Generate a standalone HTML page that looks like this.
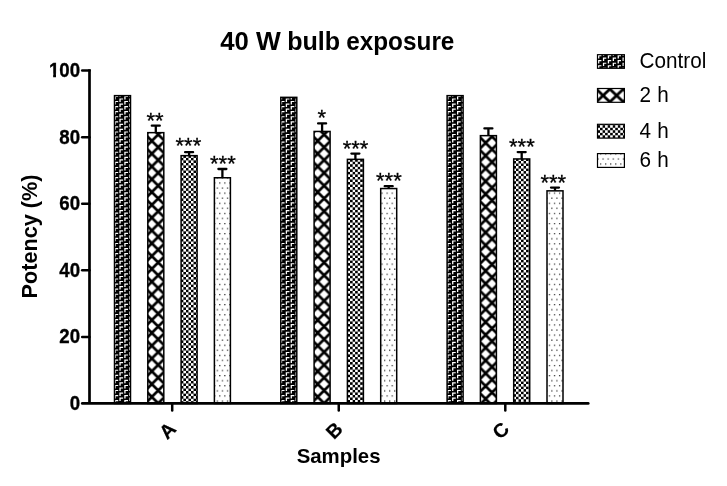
<!DOCTYPE html>
<html lang="en">
<head>
<meta charset="utf-8">
<title>40 W bulb exposure</title>
<style>
html,body{margin:0;padding:0;background:#fff;}
body{width:727px;height:486px;overflow:hidden;}
svg{display:block;}
text{font-family:"Liberation Sans",Arial,sans-serif;fill:#000;}
.b{font-weight:bold;}
</style>
</head>
<body>
<svg width="727" height="486" viewBox="0 0 727 486">
<defs>
<pattern id="pc" patternUnits="userSpaceOnUse" x="114.5" y="95.6" width="9.785" height="5.070"><rect width="9.785" height="5.070" fill="#000"/><path d="M0.00 0.30h3.7v1.15h-2.4v2.35h-1.3z" fill="#fff"/><path d="M4.89 2.83h3.7v1.15h-2.4v2.35h-1.3z" fill="#fff"/><path d="M4.89 -2.24h3.7v1.15h-2.4v2.35h-1.3z" fill="#fff"/></pattern>
<pattern id="pcL" patternUnits="userSpaceOnUse" x="598.0" y="54.75" width="9.800" height="5.070"><rect width="9.800" height="5.070" fill="#000"/><path d="M0.00 0.30h3.4v1.15h-2.1v2.2h-1.3z" fill="#fff"/><path d="M4.90 2.83h3.4v1.15h-2.1v2.2h-1.3z" fill="#fff"/><path d="M4.90 -2.24h3.4v1.15h-2.1v2.2h-1.3z" fill="#fff"/></pattern>
<pattern id="pxA" patternUnits="userSpaceOnUse" x="151.80" y="140.90" width="12.8" height="12.8"><rect width="12.8" height="12.8" fill="#fff"/><path d="M-1.28 -1.28L14.08 14.08M-1.28 14.08L14.08 -1.28" stroke="#000" stroke-width="2.7" fill="none"/></pattern>
<pattern id="pxB" patternUnits="userSpaceOnUse" x="317.70" y="140.90" width="12.8" height="12.8"><rect width="12.8" height="12.8" fill="#fff"/><path d="M-1.28 -1.28L14.08 14.08M-1.28 14.08L14.08 -1.28" stroke="#000" stroke-width="2.7" fill="none"/></pattern>
<pattern id="pxC" patternUnits="userSpaceOnUse" x="485.60" y="142.90" width="12.8" height="12.8"><rect width="12.8" height="12.8" fill="#fff"/><path d="M-1.28 -1.28L14.08 14.08M-1.28 14.08L14.08 -1.28" stroke="#000" stroke-width="2.7" fill="none"/></pattern>
<pattern id="pxL" patternUnits="userSpaceOnUse" x="603.10" y="95.50" width="13.5" height="12.8"><rect width="13.5" height="12.8" fill="#fff"/><path d="M-1.35 -1.28L14.85 14.08M-1.35 14.08L14.85 -1.28" stroke="#000" stroke-width="2.7" fill="none"/></pattern>
<pattern id="pkA" patternUnits="userSpaceOnUse" x="180.85" y="157.85" width="5.07" height="5.07"><rect width="5.07" height="5.07" fill="#fff"/><rect x="0" y="0" width="2.535" height="2.535" fill="#000"/><rect x="2.535" y="2.535" width="2.535" height="2.535" fill="#000"/></pattern>
<pattern id="pkB" patternUnits="userSpaceOnUse" x="180.25" y="156.65" width="5.07" height="5.07"><rect width="5.07" height="5.07" fill="#fff"/><rect x="0" y="0" width="2.535" height="2.535" fill="#000"/><rect x="2.535" y="2.535" width="2.535" height="2.535" fill="#000"/></pattern>
<pattern id="pkC" patternUnits="userSpaceOnUse" x="181.35" y="158.45" width="5.07" height="5.07"><rect width="5.07" height="5.07" fill="#fff"/><rect x="0" y="0" width="2.535" height="2.535" fill="#000"/><rect x="2.535" y="2.535" width="2.535" height="2.535" fill="#000"/></pattern>
<pattern id="pkL" patternUnits="userSpaceOnUse" x="597.52" y="125.2" width="5.07" height="5.07"><rect width="5.07" height="5.07" fill="#fff"/><rect x="0" y="0" width="2.535" height="2.535" fill="#000"/><rect x="2.535" y="2.535" width="2.535" height="2.535" fill="#000"/></pattern>
<pattern id="pd" patternUnits="userSpaceOnUse" x="219.2" y="182.4" width="5.07" height="10.14"><rect width="5.07" height="10.14" fill="#fff"/><rect x="0" y="0" width="1.2" height="1.2" fill="#222"/><rect x="2.535" y="5.07" width="1.2" height="1.2" fill="#222"/></pattern>
<pattern id="pdL" patternUnits="userSpaceOnUse" x="219.7" y="183.7" width="5.07" height="10.14"><rect width="5.07" height="10.14" fill="#fff"/><rect x="0" y="0" width="1.2" height="1.2" fill="#222"/><rect x="2.535" y="5.07" width="1.2" height="1.2" fill="#222"/></pattern>
</defs>
<rect width="727" height="486" fill="#fff"/>
<text class="b" y="49.6" font-size="26.5"><tspan x="220.3" textLength="28.6" lengthAdjust="spacingAndGlyphs">40</tspan> <tspan x="256.0" textLength="24.8" lengthAdjust="spacingAndGlyphs">W</tspan> <tspan x="287.2" textLength="53.0" lengthAdjust="spacingAndGlyphs">bulb</tspan> <tspan x="346.2" textLength="108.2" lengthAdjust="spacingAndGlyphs">exposure</tspan></text>
<clipPath id="clA"><rect x="114.50" y="95.65" width="16.00" height="307.80"/></clipPath>
<rect x="114.50" y="95.65" width="16.00" height="307.80" fill="#000"/>
<path clip-path="url(#clA)" fill="#fff" d="M109.61 88.30h3.7v1.15h-2.4v2.35h-1.3zM109.61 93.37h3.7v1.15h-2.4v2.35h-1.3zM109.61 98.44h3.7v1.15h-2.4v2.35h-1.3zM109.61 103.50h3.7v1.15h-2.4v2.35h-1.3zM109.61 108.58h3.7v1.15h-2.4v2.35h-1.3zM109.61 113.65h3.7v1.15h-2.4v2.35h-1.3zM109.61 118.72h3.7v1.15h-2.4v2.35h-1.3zM109.61 123.78h3.7v1.15h-2.4v2.35h-1.3zM109.61 128.86h3.7v1.15h-2.4v2.35h-1.3zM109.61 133.93h3.7v1.15h-2.4v2.35h-1.3zM109.61 139.00h3.7v1.15h-2.4v2.35h-1.3zM109.61 144.06h3.7v1.15h-2.4v2.35h-1.3zM109.61 149.13h3.7v1.15h-2.4v2.35h-1.3zM109.61 154.21h3.7v1.15h-2.4v2.35h-1.3zM109.61 159.28h3.7v1.15h-2.4v2.35h-1.3zM109.61 164.34h3.7v1.15h-2.4v2.35h-1.3zM109.61 169.42h3.7v1.15h-2.4v2.35h-1.3zM109.61 174.49h3.7v1.15h-2.4v2.35h-1.3zM109.61 179.56h3.7v1.15h-2.4v2.35h-1.3zM109.61 184.62h3.7v1.15h-2.4v2.35h-1.3zM109.61 189.69h3.7v1.15h-2.4v2.35h-1.3zM109.61 194.77h3.7v1.15h-2.4v2.35h-1.3zM109.61 199.84h3.7v1.15h-2.4v2.35h-1.3zM109.61 204.91h3.7v1.15h-2.4v2.35h-1.3zM109.61 209.98h3.7v1.15h-2.4v2.35h-1.3zM109.61 215.05h3.7v1.15h-2.4v2.35h-1.3zM109.61 220.12h3.7v1.15h-2.4v2.35h-1.3zM109.61 225.19h3.7v1.15h-2.4v2.35h-1.3zM109.61 230.25h3.7v1.15h-2.4v2.35h-1.3zM109.61 235.33h3.7v1.15h-2.4v2.35h-1.3zM109.61 240.40h3.7v1.15h-2.4v2.35h-1.3zM109.61 245.47h3.7v1.15h-2.4v2.35h-1.3zM109.61 250.54h3.7v1.15h-2.4v2.35h-1.3zM109.61 255.61h3.7v1.15h-2.4v2.35h-1.3zM109.61 260.68h3.7v1.15h-2.4v2.35h-1.3zM109.61 265.75h3.7v1.15h-2.4v2.35h-1.3zM109.61 270.81h3.7v1.15h-2.4v2.35h-1.3zM109.61 275.88h3.7v1.15h-2.4v2.35h-1.3zM109.61 280.96h3.7v1.15h-2.4v2.35h-1.3zM109.61 286.02h3.7v1.15h-2.4v2.35h-1.3zM109.61 291.10h3.7v1.15h-2.4v2.35h-1.3zM109.61 296.17h3.7v1.15h-2.4v2.35h-1.3zM109.61 301.24h3.7v1.15h-2.4v2.35h-1.3zM109.61 306.31h3.7v1.15h-2.4v2.35h-1.3zM109.61 311.38h3.7v1.15h-2.4v2.35h-1.3zM109.61 316.45h3.7v1.15h-2.4v2.35h-1.3zM109.61 321.51h3.7v1.15h-2.4v2.35h-1.3zM109.61 326.59h3.7v1.15h-2.4v2.35h-1.3zM109.61 331.66h3.7v1.15h-2.4v2.35h-1.3zM109.61 336.73h3.7v1.15h-2.4v2.35h-1.3zM109.61 341.80h3.7v1.15h-2.4v2.35h-1.3zM109.61 346.87h3.7v1.15h-2.4v2.35h-1.3zM109.61 351.94h3.7v1.15h-2.4v2.35h-1.3zM109.61 357.00h3.7v1.15h-2.4v2.35h-1.3zM109.61 362.07h3.7v1.15h-2.4v2.35h-1.3zM109.61 367.15h3.7v1.15h-2.4v2.35h-1.3zM109.61 372.22h3.7v1.15h-2.4v2.35h-1.3zM109.61 377.29h3.7v1.15h-2.4v2.35h-1.3zM109.61 382.36h3.7v1.15h-2.4v2.35h-1.3zM109.61 387.43h3.7v1.15h-2.4v2.35h-1.3zM109.61 392.50h3.7v1.15h-2.4v2.35h-1.3zM109.61 397.56h3.7v1.15h-2.4v2.35h-1.3zM109.61 402.64h3.7v1.15h-2.4v2.35h-1.3zM109.61 407.71h3.7v1.15h-2.4v2.35h-1.3zM109.61 412.78h3.7v1.15h-2.4v2.35h-1.3zM114.50 85.76h3.7v1.15h-2.4v2.35h-1.3zM114.50 90.83h3.7v1.15h-2.4v2.35h-1.3zM114.50 95.90h3.7v1.15h-2.4v2.35h-1.3zM114.50 100.97h3.7v1.15h-2.4v2.35h-1.3zM114.50 106.04h3.7v1.15h-2.4v2.35h-1.3zM114.50 111.11h3.7v1.15h-2.4v2.35h-1.3zM114.50 116.18h3.7v1.15h-2.4v2.35h-1.3zM114.50 121.25h3.7v1.15h-2.4v2.35h-1.3zM114.50 126.32h3.7v1.15h-2.4v2.35h-1.3zM114.50 131.39h3.7v1.15h-2.4v2.35h-1.3zM114.50 136.46h3.7v1.15h-2.4v2.35h-1.3zM114.50 141.53h3.7v1.15h-2.4v2.35h-1.3zM114.50 146.60h3.7v1.15h-2.4v2.35h-1.3zM114.50 151.67h3.7v1.15h-2.4v2.35h-1.3zM114.50 156.74h3.7v1.15h-2.4v2.35h-1.3zM114.50 161.81h3.7v1.15h-2.4v2.35h-1.3zM114.50 166.88h3.7v1.15h-2.4v2.35h-1.3zM114.50 171.95h3.7v1.15h-2.4v2.35h-1.3zM114.50 177.02h3.7v1.15h-2.4v2.35h-1.3zM114.50 182.09h3.7v1.15h-2.4v2.35h-1.3zM114.50 187.16h3.7v1.15h-2.4v2.35h-1.3zM114.50 192.23h3.7v1.15h-2.4v2.35h-1.3zM114.50 197.30h3.7v1.15h-2.4v2.35h-1.3zM114.50 202.37h3.7v1.15h-2.4v2.35h-1.3zM114.50 207.44h3.7v1.15h-2.4v2.35h-1.3zM114.50 212.51h3.7v1.15h-2.4v2.35h-1.3zM114.50 217.58h3.7v1.15h-2.4v2.35h-1.3zM114.50 222.65h3.7v1.15h-2.4v2.35h-1.3zM114.50 227.72h3.7v1.15h-2.4v2.35h-1.3zM114.50 232.79h3.7v1.15h-2.4v2.35h-1.3zM114.50 237.86h3.7v1.15h-2.4v2.35h-1.3zM114.50 242.93h3.7v1.15h-2.4v2.35h-1.3zM114.50 248.00h3.7v1.15h-2.4v2.35h-1.3zM114.50 253.07h3.7v1.15h-2.4v2.35h-1.3zM114.50 258.14h3.7v1.15h-2.4v2.35h-1.3zM114.50 263.21h3.7v1.15h-2.4v2.35h-1.3zM114.50 268.28h3.7v1.15h-2.4v2.35h-1.3zM114.50 273.35h3.7v1.15h-2.4v2.35h-1.3zM114.50 278.42h3.7v1.15h-2.4v2.35h-1.3zM114.50 283.49h3.7v1.15h-2.4v2.35h-1.3zM114.50 288.56h3.7v1.15h-2.4v2.35h-1.3zM114.50 293.63h3.7v1.15h-2.4v2.35h-1.3zM114.50 298.70h3.7v1.15h-2.4v2.35h-1.3zM114.50 303.77h3.7v1.15h-2.4v2.35h-1.3zM114.50 308.84h3.7v1.15h-2.4v2.35h-1.3zM114.50 313.91h3.7v1.15h-2.4v2.35h-1.3zM114.50 318.98h3.7v1.15h-2.4v2.35h-1.3zM114.50 324.05h3.7v1.15h-2.4v2.35h-1.3zM114.50 329.12h3.7v1.15h-2.4v2.35h-1.3zM114.50 334.19h3.7v1.15h-2.4v2.35h-1.3zM114.50 339.26h3.7v1.15h-2.4v2.35h-1.3zM114.50 344.33h3.7v1.15h-2.4v2.35h-1.3zM114.50 349.40h3.7v1.15h-2.4v2.35h-1.3zM114.50 354.47h3.7v1.15h-2.4v2.35h-1.3zM114.50 359.54h3.7v1.15h-2.4v2.35h-1.3zM114.50 364.61h3.7v1.15h-2.4v2.35h-1.3zM114.50 369.68h3.7v1.15h-2.4v2.35h-1.3zM114.50 374.75h3.7v1.15h-2.4v2.35h-1.3zM114.50 379.82h3.7v1.15h-2.4v2.35h-1.3zM114.50 384.89h3.7v1.15h-2.4v2.35h-1.3zM114.50 389.96h3.7v1.15h-2.4v2.35h-1.3zM114.50 395.03h3.7v1.15h-2.4v2.35h-1.3zM114.50 400.10h3.7v1.15h-2.4v2.35h-1.3zM114.50 405.17h3.7v1.15h-2.4v2.35h-1.3zM114.50 410.24h3.7v1.15h-2.4v2.35h-1.3zM119.39 88.30h3.7v1.15h-2.4v2.35h-1.3zM119.39 93.37h3.7v1.15h-2.4v2.35h-1.3zM119.39 98.44h3.7v1.15h-2.4v2.35h-1.3zM119.39 103.50h3.7v1.15h-2.4v2.35h-1.3zM119.39 108.58h3.7v1.15h-2.4v2.35h-1.3zM119.39 113.65h3.7v1.15h-2.4v2.35h-1.3zM119.39 118.72h3.7v1.15h-2.4v2.35h-1.3zM119.39 123.78h3.7v1.15h-2.4v2.35h-1.3zM119.39 128.86h3.7v1.15h-2.4v2.35h-1.3zM119.39 133.93h3.7v1.15h-2.4v2.35h-1.3zM119.39 139.00h3.7v1.15h-2.4v2.35h-1.3zM119.39 144.06h3.7v1.15h-2.4v2.35h-1.3zM119.39 149.13h3.7v1.15h-2.4v2.35h-1.3zM119.39 154.21h3.7v1.15h-2.4v2.35h-1.3zM119.39 159.28h3.7v1.15h-2.4v2.35h-1.3zM119.39 164.34h3.7v1.15h-2.4v2.35h-1.3zM119.39 169.42h3.7v1.15h-2.4v2.35h-1.3zM119.39 174.49h3.7v1.15h-2.4v2.35h-1.3zM119.39 179.56h3.7v1.15h-2.4v2.35h-1.3zM119.39 184.62h3.7v1.15h-2.4v2.35h-1.3zM119.39 189.69h3.7v1.15h-2.4v2.35h-1.3zM119.39 194.77h3.7v1.15h-2.4v2.35h-1.3zM119.39 199.84h3.7v1.15h-2.4v2.35h-1.3zM119.39 204.91h3.7v1.15h-2.4v2.35h-1.3zM119.39 209.98h3.7v1.15h-2.4v2.35h-1.3zM119.39 215.05h3.7v1.15h-2.4v2.35h-1.3zM119.39 220.12h3.7v1.15h-2.4v2.35h-1.3zM119.39 225.19h3.7v1.15h-2.4v2.35h-1.3zM119.39 230.25h3.7v1.15h-2.4v2.35h-1.3zM119.39 235.33h3.7v1.15h-2.4v2.35h-1.3zM119.39 240.40h3.7v1.15h-2.4v2.35h-1.3zM119.39 245.47h3.7v1.15h-2.4v2.35h-1.3zM119.39 250.54h3.7v1.15h-2.4v2.35h-1.3zM119.39 255.61h3.7v1.15h-2.4v2.35h-1.3zM119.39 260.68h3.7v1.15h-2.4v2.35h-1.3zM119.39 265.75h3.7v1.15h-2.4v2.35h-1.3zM119.39 270.81h3.7v1.15h-2.4v2.35h-1.3zM119.39 275.88h3.7v1.15h-2.4v2.35h-1.3zM119.39 280.96h3.7v1.15h-2.4v2.35h-1.3zM119.39 286.02h3.7v1.15h-2.4v2.35h-1.3zM119.39 291.10h3.7v1.15h-2.4v2.35h-1.3zM119.39 296.17h3.7v1.15h-2.4v2.35h-1.3zM119.39 301.24h3.7v1.15h-2.4v2.35h-1.3zM119.39 306.31h3.7v1.15h-2.4v2.35h-1.3zM119.39 311.38h3.7v1.15h-2.4v2.35h-1.3zM119.39 316.45h3.7v1.15h-2.4v2.35h-1.3zM119.39 321.51h3.7v1.15h-2.4v2.35h-1.3zM119.39 326.59h3.7v1.15h-2.4v2.35h-1.3zM119.39 331.66h3.7v1.15h-2.4v2.35h-1.3zM119.39 336.73h3.7v1.15h-2.4v2.35h-1.3zM119.39 341.80h3.7v1.15h-2.4v2.35h-1.3zM119.39 346.87h3.7v1.15h-2.4v2.35h-1.3zM119.39 351.94h3.7v1.15h-2.4v2.35h-1.3zM119.39 357.00h3.7v1.15h-2.4v2.35h-1.3zM119.39 362.07h3.7v1.15h-2.4v2.35h-1.3zM119.39 367.15h3.7v1.15h-2.4v2.35h-1.3zM119.39 372.22h3.7v1.15h-2.4v2.35h-1.3zM119.39 377.29h3.7v1.15h-2.4v2.35h-1.3zM119.39 382.36h3.7v1.15h-2.4v2.35h-1.3zM119.39 387.43h3.7v1.15h-2.4v2.35h-1.3zM119.39 392.50h3.7v1.15h-2.4v2.35h-1.3zM119.39 397.56h3.7v1.15h-2.4v2.35h-1.3zM119.39 402.64h3.7v1.15h-2.4v2.35h-1.3zM119.39 407.71h3.7v1.15h-2.4v2.35h-1.3zM119.39 412.78h3.7v1.15h-2.4v2.35h-1.3zM124.28 85.76h3.7v1.15h-2.4v2.35h-1.3zM124.28 90.83h3.7v1.15h-2.4v2.35h-1.3zM124.28 95.90h3.7v1.15h-2.4v2.35h-1.3zM124.28 100.97h3.7v1.15h-2.4v2.35h-1.3zM124.28 106.04h3.7v1.15h-2.4v2.35h-1.3zM124.28 111.11h3.7v1.15h-2.4v2.35h-1.3zM124.28 116.18h3.7v1.15h-2.4v2.35h-1.3zM124.28 121.25h3.7v1.15h-2.4v2.35h-1.3zM124.28 126.32h3.7v1.15h-2.4v2.35h-1.3zM124.28 131.39h3.7v1.15h-2.4v2.35h-1.3zM124.28 136.46h3.7v1.15h-2.4v2.35h-1.3zM124.28 141.53h3.7v1.15h-2.4v2.35h-1.3zM124.28 146.60h3.7v1.15h-2.4v2.35h-1.3zM124.28 151.67h3.7v1.15h-2.4v2.35h-1.3zM124.28 156.74h3.7v1.15h-2.4v2.35h-1.3zM124.28 161.81h3.7v1.15h-2.4v2.35h-1.3zM124.28 166.88h3.7v1.15h-2.4v2.35h-1.3zM124.28 171.95h3.7v1.15h-2.4v2.35h-1.3zM124.28 177.02h3.7v1.15h-2.4v2.35h-1.3zM124.28 182.09h3.7v1.15h-2.4v2.35h-1.3zM124.28 187.16h3.7v1.15h-2.4v2.35h-1.3zM124.28 192.23h3.7v1.15h-2.4v2.35h-1.3zM124.28 197.30h3.7v1.15h-2.4v2.35h-1.3zM124.28 202.37h3.7v1.15h-2.4v2.35h-1.3zM124.28 207.44h3.7v1.15h-2.4v2.35h-1.3zM124.28 212.51h3.7v1.15h-2.4v2.35h-1.3zM124.28 217.58h3.7v1.15h-2.4v2.35h-1.3zM124.28 222.65h3.7v1.15h-2.4v2.35h-1.3zM124.28 227.72h3.7v1.15h-2.4v2.35h-1.3zM124.28 232.79h3.7v1.15h-2.4v2.35h-1.3zM124.28 237.86h3.7v1.15h-2.4v2.35h-1.3zM124.28 242.93h3.7v1.15h-2.4v2.35h-1.3zM124.28 248.00h3.7v1.15h-2.4v2.35h-1.3zM124.28 253.07h3.7v1.15h-2.4v2.35h-1.3zM124.28 258.14h3.7v1.15h-2.4v2.35h-1.3zM124.28 263.21h3.7v1.15h-2.4v2.35h-1.3zM124.28 268.28h3.7v1.15h-2.4v2.35h-1.3zM124.28 273.35h3.7v1.15h-2.4v2.35h-1.3zM124.28 278.42h3.7v1.15h-2.4v2.35h-1.3zM124.28 283.49h3.7v1.15h-2.4v2.35h-1.3zM124.28 288.56h3.7v1.15h-2.4v2.35h-1.3zM124.28 293.63h3.7v1.15h-2.4v2.35h-1.3zM124.28 298.70h3.7v1.15h-2.4v2.35h-1.3zM124.28 303.77h3.7v1.15h-2.4v2.35h-1.3zM124.28 308.84h3.7v1.15h-2.4v2.35h-1.3zM124.28 313.91h3.7v1.15h-2.4v2.35h-1.3zM124.28 318.98h3.7v1.15h-2.4v2.35h-1.3zM124.28 324.05h3.7v1.15h-2.4v2.35h-1.3zM124.28 329.12h3.7v1.15h-2.4v2.35h-1.3zM124.28 334.19h3.7v1.15h-2.4v2.35h-1.3zM124.28 339.26h3.7v1.15h-2.4v2.35h-1.3zM124.28 344.33h3.7v1.15h-2.4v2.35h-1.3zM124.28 349.40h3.7v1.15h-2.4v2.35h-1.3zM124.28 354.47h3.7v1.15h-2.4v2.35h-1.3zM124.28 359.54h3.7v1.15h-2.4v2.35h-1.3zM124.28 364.61h3.7v1.15h-2.4v2.35h-1.3zM124.28 369.68h3.7v1.15h-2.4v2.35h-1.3zM124.28 374.75h3.7v1.15h-2.4v2.35h-1.3zM124.28 379.82h3.7v1.15h-2.4v2.35h-1.3zM124.28 384.89h3.7v1.15h-2.4v2.35h-1.3zM124.28 389.96h3.7v1.15h-2.4v2.35h-1.3zM124.28 395.03h3.7v1.15h-2.4v2.35h-1.3zM124.28 400.10h3.7v1.15h-2.4v2.35h-1.3zM124.28 405.17h3.7v1.15h-2.4v2.35h-1.3zM124.28 410.24h3.7v1.15h-2.4v2.35h-1.3zM129.18 88.30h3.7v1.15h-2.4v2.35h-1.3zM129.18 93.37h3.7v1.15h-2.4v2.35h-1.3zM129.18 98.44h3.7v1.15h-2.4v2.35h-1.3zM129.18 103.50h3.7v1.15h-2.4v2.35h-1.3zM129.18 108.58h3.7v1.15h-2.4v2.35h-1.3zM129.18 113.65h3.7v1.15h-2.4v2.35h-1.3zM129.18 118.72h3.7v1.15h-2.4v2.35h-1.3zM129.18 123.78h3.7v1.15h-2.4v2.35h-1.3zM129.18 128.86h3.7v1.15h-2.4v2.35h-1.3zM129.18 133.93h3.7v1.15h-2.4v2.35h-1.3zM129.18 139.00h3.7v1.15h-2.4v2.35h-1.3zM129.18 144.06h3.7v1.15h-2.4v2.35h-1.3zM129.18 149.13h3.7v1.15h-2.4v2.35h-1.3zM129.18 154.21h3.7v1.15h-2.4v2.35h-1.3zM129.18 159.28h3.7v1.15h-2.4v2.35h-1.3zM129.18 164.34h3.7v1.15h-2.4v2.35h-1.3zM129.18 169.42h3.7v1.15h-2.4v2.35h-1.3zM129.18 174.49h3.7v1.15h-2.4v2.35h-1.3zM129.18 179.56h3.7v1.15h-2.4v2.35h-1.3zM129.18 184.62h3.7v1.15h-2.4v2.35h-1.3zM129.18 189.69h3.7v1.15h-2.4v2.35h-1.3zM129.18 194.77h3.7v1.15h-2.4v2.35h-1.3zM129.18 199.84h3.7v1.15h-2.4v2.35h-1.3zM129.18 204.91h3.7v1.15h-2.4v2.35h-1.3zM129.18 209.98h3.7v1.15h-2.4v2.35h-1.3zM129.18 215.05h3.7v1.15h-2.4v2.35h-1.3zM129.18 220.12h3.7v1.15h-2.4v2.35h-1.3zM129.18 225.19h3.7v1.15h-2.4v2.35h-1.3zM129.18 230.25h3.7v1.15h-2.4v2.35h-1.3zM129.18 235.33h3.7v1.15h-2.4v2.35h-1.3zM129.18 240.40h3.7v1.15h-2.4v2.35h-1.3zM129.18 245.47h3.7v1.15h-2.4v2.35h-1.3zM129.18 250.54h3.7v1.15h-2.4v2.35h-1.3zM129.18 255.61h3.7v1.15h-2.4v2.35h-1.3zM129.18 260.68h3.7v1.15h-2.4v2.35h-1.3zM129.18 265.75h3.7v1.15h-2.4v2.35h-1.3zM129.18 270.81h3.7v1.15h-2.4v2.35h-1.3zM129.18 275.88h3.7v1.15h-2.4v2.35h-1.3zM129.18 280.96h3.7v1.15h-2.4v2.35h-1.3zM129.18 286.02h3.7v1.15h-2.4v2.35h-1.3zM129.18 291.10h3.7v1.15h-2.4v2.35h-1.3zM129.18 296.17h3.7v1.15h-2.4v2.35h-1.3zM129.18 301.24h3.7v1.15h-2.4v2.35h-1.3zM129.18 306.31h3.7v1.15h-2.4v2.35h-1.3zM129.18 311.38h3.7v1.15h-2.4v2.35h-1.3zM129.18 316.45h3.7v1.15h-2.4v2.35h-1.3zM129.18 321.51h3.7v1.15h-2.4v2.35h-1.3zM129.18 326.59h3.7v1.15h-2.4v2.35h-1.3zM129.18 331.66h3.7v1.15h-2.4v2.35h-1.3zM129.18 336.73h3.7v1.15h-2.4v2.35h-1.3zM129.18 341.80h3.7v1.15h-2.4v2.35h-1.3zM129.18 346.87h3.7v1.15h-2.4v2.35h-1.3zM129.18 351.94h3.7v1.15h-2.4v2.35h-1.3zM129.18 357.00h3.7v1.15h-2.4v2.35h-1.3zM129.18 362.07h3.7v1.15h-2.4v2.35h-1.3zM129.18 367.15h3.7v1.15h-2.4v2.35h-1.3zM129.18 372.22h3.7v1.15h-2.4v2.35h-1.3zM129.18 377.29h3.7v1.15h-2.4v2.35h-1.3zM129.18 382.36h3.7v1.15h-2.4v2.35h-1.3zM129.18 387.43h3.7v1.15h-2.4v2.35h-1.3zM129.18 392.50h3.7v1.15h-2.4v2.35h-1.3zM129.18 397.56h3.7v1.15h-2.4v2.35h-1.3zM129.18 402.64h3.7v1.15h-2.4v2.35h-1.3zM129.18 407.71h3.7v1.15h-2.4v2.35h-1.3zM129.18 412.78h3.7v1.15h-2.4v2.35h-1.3zM134.07 85.76h3.7v1.15h-2.4v2.35h-1.3zM134.07 90.83h3.7v1.15h-2.4v2.35h-1.3zM134.07 95.90h3.7v1.15h-2.4v2.35h-1.3zM134.07 100.97h3.7v1.15h-2.4v2.35h-1.3zM134.07 106.04h3.7v1.15h-2.4v2.35h-1.3zM134.07 111.11h3.7v1.15h-2.4v2.35h-1.3zM134.07 116.18h3.7v1.15h-2.4v2.35h-1.3zM134.07 121.25h3.7v1.15h-2.4v2.35h-1.3zM134.07 126.32h3.7v1.15h-2.4v2.35h-1.3zM134.07 131.39h3.7v1.15h-2.4v2.35h-1.3zM134.07 136.46h3.7v1.15h-2.4v2.35h-1.3zM134.07 141.53h3.7v1.15h-2.4v2.35h-1.3zM134.07 146.60h3.7v1.15h-2.4v2.35h-1.3zM134.07 151.67h3.7v1.15h-2.4v2.35h-1.3zM134.07 156.74h3.7v1.15h-2.4v2.35h-1.3zM134.07 161.81h3.7v1.15h-2.4v2.35h-1.3zM134.07 166.88h3.7v1.15h-2.4v2.35h-1.3zM134.07 171.95h3.7v1.15h-2.4v2.35h-1.3zM134.07 177.02h3.7v1.15h-2.4v2.35h-1.3zM134.07 182.09h3.7v1.15h-2.4v2.35h-1.3zM134.07 187.16h3.7v1.15h-2.4v2.35h-1.3zM134.07 192.23h3.7v1.15h-2.4v2.35h-1.3zM134.07 197.30h3.7v1.15h-2.4v2.35h-1.3zM134.07 202.37h3.7v1.15h-2.4v2.35h-1.3zM134.07 207.44h3.7v1.15h-2.4v2.35h-1.3zM134.07 212.51h3.7v1.15h-2.4v2.35h-1.3zM134.07 217.58h3.7v1.15h-2.4v2.35h-1.3zM134.07 222.65h3.7v1.15h-2.4v2.35h-1.3zM134.07 227.72h3.7v1.15h-2.4v2.35h-1.3zM134.07 232.79h3.7v1.15h-2.4v2.35h-1.3zM134.07 237.86h3.7v1.15h-2.4v2.35h-1.3zM134.07 242.93h3.7v1.15h-2.4v2.35h-1.3zM134.07 248.00h3.7v1.15h-2.4v2.35h-1.3zM134.07 253.07h3.7v1.15h-2.4v2.35h-1.3zM134.07 258.14h3.7v1.15h-2.4v2.35h-1.3zM134.07 263.21h3.7v1.15h-2.4v2.35h-1.3zM134.07 268.28h3.7v1.15h-2.4v2.35h-1.3zM134.07 273.35h3.7v1.15h-2.4v2.35h-1.3zM134.07 278.42h3.7v1.15h-2.4v2.35h-1.3zM134.07 283.49h3.7v1.15h-2.4v2.35h-1.3zM134.07 288.56h3.7v1.15h-2.4v2.35h-1.3zM134.07 293.63h3.7v1.15h-2.4v2.35h-1.3zM134.07 298.70h3.7v1.15h-2.4v2.35h-1.3zM134.07 303.77h3.7v1.15h-2.4v2.35h-1.3zM134.07 308.84h3.7v1.15h-2.4v2.35h-1.3zM134.07 313.91h3.7v1.15h-2.4v2.35h-1.3zM134.07 318.98h3.7v1.15h-2.4v2.35h-1.3zM134.07 324.05h3.7v1.15h-2.4v2.35h-1.3zM134.07 329.12h3.7v1.15h-2.4v2.35h-1.3zM134.07 334.19h3.7v1.15h-2.4v2.35h-1.3zM134.07 339.26h3.7v1.15h-2.4v2.35h-1.3zM134.07 344.33h3.7v1.15h-2.4v2.35h-1.3zM134.07 349.40h3.7v1.15h-2.4v2.35h-1.3zM134.07 354.47h3.7v1.15h-2.4v2.35h-1.3zM134.07 359.54h3.7v1.15h-2.4v2.35h-1.3zM134.07 364.61h3.7v1.15h-2.4v2.35h-1.3zM134.07 369.68h3.7v1.15h-2.4v2.35h-1.3zM134.07 374.75h3.7v1.15h-2.4v2.35h-1.3zM134.07 379.82h3.7v1.15h-2.4v2.35h-1.3zM134.07 384.89h3.7v1.15h-2.4v2.35h-1.3zM134.07 389.96h3.7v1.15h-2.4v2.35h-1.3zM134.07 395.03h3.7v1.15h-2.4v2.35h-1.3zM134.07 400.10h3.7v1.15h-2.4v2.35h-1.3zM134.07 405.17h3.7v1.15h-2.4v2.35h-1.3zM134.07 410.24h3.7v1.15h-2.4v2.35h-1.3zM138.96 88.30h3.7v1.15h-2.4v2.35h-1.3zM138.96 93.37h3.7v1.15h-2.4v2.35h-1.3zM138.96 98.44h3.7v1.15h-2.4v2.35h-1.3zM138.96 103.50h3.7v1.15h-2.4v2.35h-1.3zM138.96 108.58h3.7v1.15h-2.4v2.35h-1.3zM138.96 113.65h3.7v1.15h-2.4v2.35h-1.3zM138.96 118.72h3.7v1.15h-2.4v2.35h-1.3zM138.96 123.78h3.7v1.15h-2.4v2.35h-1.3zM138.96 128.86h3.7v1.15h-2.4v2.35h-1.3zM138.96 133.93h3.7v1.15h-2.4v2.35h-1.3zM138.96 139.00h3.7v1.15h-2.4v2.35h-1.3zM138.96 144.06h3.7v1.15h-2.4v2.35h-1.3zM138.96 149.13h3.7v1.15h-2.4v2.35h-1.3zM138.96 154.21h3.7v1.15h-2.4v2.35h-1.3zM138.96 159.28h3.7v1.15h-2.4v2.35h-1.3zM138.96 164.34h3.7v1.15h-2.4v2.35h-1.3zM138.96 169.42h3.7v1.15h-2.4v2.35h-1.3zM138.96 174.49h3.7v1.15h-2.4v2.35h-1.3zM138.96 179.56h3.7v1.15h-2.4v2.35h-1.3zM138.96 184.62h3.7v1.15h-2.4v2.35h-1.3zM138.96 189.69h3.7v1.15h-2.4v2.35h-1.3zM138.96 194.77h3.7v1.15h-2.4v2.35h-1.3zM138.96 199.84h3.7v1.15h-2.4v2.35h-1.3zM138.96 204.91h3.7v1.15h-2.4v2.35h-1.3zM138.96 209.98h3.7v1.15h-2.4v2.35h-1.3zM138.96 215.05h3.7v1.15h-2.4v2.35h-1.3zM138.96 220.12h3.7v1.15h-2.4v2.35h-1.3zM138.96 225.19h3.7v1.15h-2.4v2.35h-1.3zM138.96 230.25h3.7v1.15h-2.4v2.35h-1.3zM138.96 235.33h3.7v1.15h-2.4v2.35h-1.3zM138.96 240.40h3.7v1.15h-2.4v2.35h-1.3zM138.96 245.47h3.7v1.15h-2.4v2.35h-1.3zM138.96 250.54h3.7v1.15h-2.4v2.35h-1.3zM138.96 255.61h3.7v1.15h-2.4v2.35h-1.3zM138.96 260.68h3.7v1.15h-2.4v2.35h-1.3zM138.96 265.75h3.7v1.15h-2.4v2.35h-1.3zM138.96 270.81h3.7v1.15h-2.4v2.35h-1.3zM138.96 275.88h3.7v1.15h-2.4v2.35h-1.3zM138.96 280.96h3.7v1.15h-2.4v2.35h-1.3zM138.96 286.02h3.7v1.15h-2.4v2.35h-1.3zM138.96 291.10h3.7v1.15h-2.4v2.35h-1.3zM138.96 296.17h3.7v1.15h-2.4v2.35h-1.3zM138.96 301.24h3.7v1.15h-2.4v2.35h-1.3zM138.96 306.31h3.7v1.15h-2.4v2.35h-1.3zM138.96 311.38h3.7v1.15h-2.4v2.35h-1.3zM138.96 316.45h3.7v1.15h-2.4v2.35h-1.3zM138.96 321.51h3.7v1.15h-2.4v2.35h-1.3zM138.96 326.59h3.7v1.15h-2.4v2.35h-1.3zM138.96 331.66h3.7v1.15h-2.4v2.35h-1.3zM138.96 336.73h3.7v1.15h-2.4v2.35h-1.3zM138.96 341.80h3.7v1.15h-2.4v2.35h-1.3zM138.96 346.87h3.7v1.15h-2.4v2.35h-1.3zM138.96 351.94h3.7v1.15h-2.4v2.35h-1.3zM138.96 357.00h3.7v1.15h-2.4v2.35h-1.3zM138.96 362.07h3.7v1.15h-2.4v2.35h-1.3zM138.96 367.15h3.7v1.15h-2.4v2.35h-1.3zM138.96 372.22h3.7v1.15h-2.4v2.35h-1.3zM138.96 377.29h3.7v1.15h-2.4v2.35h-1.3zM138.96 382.36h3.7v1.15h-2.4v2.35h-1.3zM138.96 387.43h3.7v1.15h-2.4v2.35h-1.3zM138.96 392.50h3.7v1.15h-2.4v2.35h-1.3zM138.96 397.56h3.7v1.15h-2.4v2.35h-1.3zM138.96 402.64h3.7v1.15h-2.4v2.35h-1.3zM138.96 407.71h3.7v1.15h-2.4v2.35h-1.3zM138.96 412.78h3.7v1.15h-2.4v2.35h-1.3z"/>
<rect x="114.50" y="95.65" width="16.00" height="307.80" fill="none" stroke="#000" stroke-width="1.5"/>
<path d="M155.80 132.65V125.70M151.80 125.70H159.80" stroke="#000" stroke-width="2.3" stroke-linecap="round" fill="none"/>
<rect x="147.80" y="132.65" width="16.00" height="270.80" fill="url(#pxA)" stroke="#000" stroke-width="1.5"/>
<text x="155.10" y="127.50" font-size="22" text-anchor="middle" stroke="#000" stroke-width="0.3">**</text>
<path d="M189.10 155.65V152.20M185.10 152.20H193.10" stroke="#000" stroke-width="2.3" stroke-linecap="round" fill="none"/>
<rect x="181.10" y="155.65" width="16.00" height="247.80" fill="url(#pkA)" stroke="#000" stroke-width="1.5"/>
<text x="188.40" y="152.90" font-size="22" text-anchor="middle" stroke="#000" stroke-width="0.3">***</text>
<path d="M222.40 177.75V169.00M218.40 169.00H226.40" stroke="#000" stroke-width="2.3" stroke-linecap="round" fill="none"/>
<rect x="214.40" y="177.75" width="16.00" height="225.70" fill="url(#pd)" stroke="#000" stroke-width="1.5"/>
<text x="222.90" y="170.80" font-size="22" text-anchor="middle" stroke="#000" stroke-width="0.3">***</text>
<clipPath id="clB"><rect x="280.80" y="97.35" width="16.00" height="306.10"/></clipPath>
<rect x="280.80" y="97.35" width="16.00" height="306.10" fill="#000"/>
<path clip-path="url(#clB)" fill="#fff" d="M271.06 90.83h3.7v1.15h-2.4v2.35h-1.3zM271.06 95.90h3.7v1.15h-2.4v2.35h-1.3zM271.06 100.97h3.7v1.15h-2.4v2.35h-1.3zM271.06 106.04h3.7v1.15h-2.4v2.35h-1.3zM271.06 111.11h3.7v1.15h-2.4v2.35h-1.3zM271.06 116.18h3.7v1.15h-2.4v2.35h-1.3zM271.06 121.25h3.7v1.15h-2.4v2.35h-1.3zM271.06 126.32h3.7v1.15h-2.4v2.35h-1.3zM271.06 131.39h3.7v1.15h-2.4v2.35h-1.3zM271.06 136.46h3.7v1.15h-2.4v2.35h-1.3zM271.06 141.53h3.7v1.15h-2.4v2.35h-1.3zM271.06 146.60h3.7v1.15h-2.4v2.35h-1.3zM271.06 151.67h3.7v1.15h-2.4v2.35h-1.3zM271.06 156.74h3.7v1.15h-2.4v2.35h-1.3zM271.06 161.81h3.7v1.15h-2.4v2.35h-1.3zM271.06 166.88h3.7v1.15h-2.4v2.35h-1.3zM271.06 171.95h3.7v1.15h-2.4v2.35h-1.3zM271.06 177.02h3.7v1.15h-2.4v2.35h-1.3zM271.06 182.09h3.7v1.15h-2.4v2.35h-1.3zM271.06 187.16h3.7v1.15h-2.4v2.35h-1.3zM271.06 192.23h3.7v1.15h-2.4v2.35h-1.3zM271.06 197.30h3.7v1.15h-2.4v2.35h-1.3zM271.06 202.37h3.7v1.15h-2.4v2.35h-1.3zM271.06 207.44h3.7v1.15h-2.4v2.35h-1.3zM271.06 212.51h3.7v1.15h-2.4v2.35h-1.3zM271.06 217.58h3.7v1.15h-2.4v2.35h-1.3zM271.06 222.65h3.7v1.15h-2.4v2.35h-1.3zM271.06 227.72h3.7v1.15h-2.4v2.35h-1.3zM271.06 232.79h3.7v1.15h-2.4v2.35h-1.3zM271.06 237.86h3.7v1.15h-2.4v2.35h-1.3zM271.06 242.93h3.7v1.15h-2.4v2.35h-1.3zM271.06 248.00h3.7v1.15h-2.4v2.35h-1.3zM271.06 253.07h3.7v1.15h-2.4v2.35h-1.3zM271.06 258.14h3.7v1.15h-2.4v2.35h-1.3zM271.06 263.21h3.7v1.15h-2.4v2.35h-1.3zM271.06 268.28h3.7v1.15h-2.4v2.35h-1.3zM271.06 273.35h3.7v1.15h-2.4v2.35h-1.3zM271.06 278.42h3.7v1.15h-2.4v2.35h-1.3zM271.06 283.49h3.7v1.15h-2.4v2.35h-1.3zM271.06 288.56h3.7v1.15h-2.4v2.35h-1.3zM271.06 293.63h3.7v1.15h-2.4v2.35h-1.3zM271.06 298.70h3.7v1.15h-2.4v2.35h-1.3zM271.06 303.77h3.7v1.15h-2.4v2.35h-1.3zM271.06 308.84h3.7v1.15h-2.4v2.35h-1.3zM271.06 313.91h3.7v1.15h-2.4v2.35h-1.3zM271.06 318.98h3.7v1.15h-2.4v2.35h-1.3zM271.06 324.05h3.7v1.15h-2.4v2.35h-1.3zM271.06 329.12h3.7v1.15h-2.4v2.35h-1.3zM271.06 334.19h3.7v1.15h-2.4v2.35h-1.3zM271.06 339.26h3.7v1.15h-2.4v2.35h-1.3zM271.06 344.33h3.7v1.15h-2.4v2.35h-1.3zM271.06 349.40h3.7v1.15h-2.4v2.35h-1.3zM271.06 354.47h3.7v1.15h-2.4v2.35h-1.3zM271.06 359.54h3.7v1.15h-2.4v2.35h-1.3zM271.06 364.61h3.7v1.15h-2.4v2.35h-1.3zM271.06 369.68h3.7v1.15h-2.4v2.35h-1.3zM271.06 374.75h3.7v1.15h-2.4v2.35h-1.3zM271.06 379.82h3.7v1.15h-2.4v2.35h-1.3zM271.06 384.89h3.7v1.15h-2.4v2.35h-1.3zM271.06 389.96h3.7v1.15h-2.4v2.35h-1.3zM271.06 395.03h3.7v1.15h-2.4v2.35h-1.3zM271.06 400.10h3.7v1.15h-2.4v2.35h-1.3zM271.06 405.17h3.7v1.15h-2.4v2.35h-1.3zM271.06 410.24h3.7v1.15h-2.4v2.35h-1.3zM275.95 88.30h3.7v1.15h-2.4v2.35h-1.3zM275.95 93.37h3.7v1.15h-2.4v2.35h-1.3zM275.95 98.44h3.7v1.15h-2.4v2.35h-1.3zM275.95 103.50h3.7v1.15h-2.4v2.35h-1.3zM275.95 108.58h3.7v1.15h-2.4v2.35h-1.3zM275.95 113.65h3.7v1.15h-2.4v2.35h-1.3zM275.95 118.72h3.7v1.15h-2.4v2.35h-1.3zM275.95 123.78h3.7v1.15h-2.4v2.35h-1.3zM275.95 128.86h3.7v1.15h-2.4v2.35h-1.3zM275.95 133.93h3.7v1.15h-2.4v2.35h-1.3zM275.95 139.00h3.7v1.15h-2.4v2.35h-1.3zM275.95 144.06h3.7v1.15h-2.4v2.35h-1.3zM275.95 149.13h3.7v1.15h-2.4v2.35h-1.3zM275.95 154.21h3.7v1.15h-2.4v2.35h-1.3zM275.95 159.28h3.7v1.15h-2.4v2.35h-1.3zM275.95 164.34h3.7v1.15h-2.4v2.35h-1.3zM275.95 169.42h3.7v1.15h-2.4v2.35h-1.3zM275.95 174.49h3.7v1.15h-2.4v2.35h-1.3zM275.95 179.56h3.7v1.15h-2.4v2.35h-1.3zM275.95 184.62h3.7v1.15h-2.4v2.35h-1.3zM275.95 189.69h3.7v1.15h-2.4v2.35h-1.3zM275.95 194.77h3.7v1.15h-2.4v2.35h-1.3zM275.95 199.84h3.7v1.15h-2.4v2.35h-1.3zM275.95 204.91h3.7v1.15h-2.4v2.35h-1.3zM275.95 209.98h3.7v1.15h-2.4v2.35h-1.3zM275.95 215.05h3.7v1.15h-2.4v2.35h-1.3zM275.95 220.12h3.7v1.15h-2.4v2.35h-1.3zM275.95 225.19h3.7v1.15h-2.4v2.35h-1.3zM275.95 230.25h3.7v1.15h-2.4v2.35h-1.3zM275.95 235.33h3.7v1.15h-2.4v2.35h-1.3zM275.95 240.40h3.7v1.15h-2.4v2.35h-1.3zM275.95 245.47h3.7v1.15h-2.4v2.35h-1.3zM275.95 250.54h3.7v1.15h-2.4v2.35h-1.3zM275.95 255.61h3.7v1.15h-2.4v2.35h-1.3zM275.95 260.68h3.7v1.15h-2.4v2.35h-1.3zM275.95 265.75h3.7v1.15h-2.4v2.35h-1.3zM275.95 270.81h3.7v1.15h-2.4v2.35h-1.3zM275.95 275.88h3.7v1.15h-2.4v2.35h-1.3zM275.95 280.96h3.7v1.15h-2.4v2.35h-1.3zM275.95 286.02h3.7v1.15h-2.4v2.35h-1.3zM275.95 291.10h3.7v1.15h-2.4v2.35h-1.3zM275.95 296.17h3.7v1.15h-2.4v2.35h-1.3zM275.95 301.24h3.7v1.15h-2.4v2.35h-1.3zM275.95 306.31h3.7v1.15h-2.4v2.35h-1.3zM275.95 311.38h3.7v1.15h-2.4v2.35h-1.3zM275.95 316.45h3.7v1.15h-2.4v2.35h-1.3zM275.95 321.51h3.7v1.15h-2.4v2.35h-1.3zM275.95 326.59h3.7v1.15h-2.4v2.35h-1.3zM275.95 331.66h3.7v1.15h-2.4v2.35h-1.3zM275.95 336.73h3.7v1.15h-2.4v2.35h-1.3zM275.95 341.80h3.7v1.15h-2.4v2.35h-1.3zM275.95 346.87h3.7v1.15h-2.4v2.35h-1.3zM275.95 351.94h3.7v1.15h-2.4v2.35h-1.3zM275.95 357.00h3.7v1.15h-2.4v2.35h-1.3zM275.95 362.07h3.7v1.15h-2.4v2.35h-1.3zM275.95 367.15h3.7v1.15h-2.4v2.35h-1.3zM275.95 372.22h3.7v1.15h-2.4v2.35h-1.3zM275.95 377.29h3.7v1.15h-2.4v2.35h-1.3zM275.95 382.36h3.7v1.15h-2.4v2.35h-1.3zM275.95 387.43h3.7v1.15h-2.4v2.35h-1.3zM275.95 392.50h3.7v1.15h-2.4v2.35h-1.3zM275.95 397.56h3.7v1.15h-2.4v2.35h-1.3zM275.95 402.64h3.7v1.15h-2.4v2.35h-1.3zM275.95 407.71h3.7v1.15h-2.4v2.35h-1.3zM275.95 412.78h3.7v1.15h-2.4v2.35h-1.3zM280.85 90.83h3.7v1.15h-2.4v2.35h-1.3zM280.85 95.90h3.7v1.15h-2.4v2.35h-1.3zM280.85 100.97h3.7v1.15h-2.4v2.35h-1.3zM280.85 106.04h3.7v1.15h-2.4v2.35h-1.3zM280.85 111.11h3.7v1.15h-2.4v2.35h-1.3zM280.85 116.18h3.7v1.15h-2.4v2.35h-1.3zM280.85 121.25h3.7v1.15h-2.4v2.35h-1.3zM280.85 126.32h3.7v1.15h-2.4v2.35h-1.3zM280.85 131.39h3.7v1.15h-2.4v2.35h-1.3zM280.85 136.46h3.7v1.15h-2.4v2.35h-1.3zM280.85 141.53h3.7v1.15h-2.4v2.35h-1.3zM280.85 146.60h3.7v1.15h-2.4v2.35h-1.3zM280.85 151.67h3.7v1.15h-2.4v2.35h-1.3zM280.85 156.74h3.7v1.15h-2.4v2.35h-1.3zM280.85 161.81h3.7v1.15h-2.4v2.35h-1.3zM280.85 166.88h3.7v1.15h-2.4v2.35h-1.3zM280.85 171.95h3.7v1.15h-2.4v2.35h-1.3zM280.85 177.02h3.7v1.15h-2.4v2.35h-1.3zM280.85 182.09h3.7v1.15h-2.4v2.35h-1.3zM280.85 187.16h3.7v1.15h-2.4v2.35h-1.3zM280.85 192.23h3.7v1.15h-2.4v2.35h-1.3zM280.85 197.30h3.7v1.15h-2.4v2.35h-1.3zM280.85 202.37h3.7v1.15h-2.4v2.35h-1.3zM280.85 207.44h3.7v1.15h-2.4v2.35h-1.3zM280.85 212.51h3.7v1.15h-2.4v2.35h-1.3zM280.85 217.58h3.7v1.15h-2.4v2.35h-1.3zM280.85 222.65h3.7v1.15h-2.4v2.35h-1.3zM280.85 227.72h3.7v1.15h-2.4v2.35h-1.3zM280.85 232.79h3.7v1.15h-2.4v2.35h-1.3zM280.85 237.86h3.7v1.15h-2.4v2.35h-1.3zM280.85 242.93h3.7v1.15h-2.4v2.35h-1.3zM280.85 248.00h3.7v1.15h-2.4v2.35h-1.3zM280.85 253.07h3.7v1.15h-2.4v2.35h-1.3zM280.85 258.14h3.7v1.15h-2.4v2.35h-1.3zM280.85 263.21h3.7v1.15h-2.4v2.35h-1.3zM280.85 268.28h3.7v1.15h-2.4v2.35h-1.3zM280.85 273.35h3.7v1.15h-2.4v2.35h-1.3zM280.85 278.42h3.7v1.15h-2.4v2.35h-1.3zM280.85 283.49h3.7v1.15h-2.4v2.35h-1.3zM280.85 288.56h3.7v1.15h-2.4v2.35h-1.3zM280.85 293.63h3.7v1.15h-2.4v2.35h-1.3zM280.85 298.70h3.7v1.15h-2.4v2.35h-1.3zM280.85 303.77h3.7v1.15h-2.4v2.35h-1.3zM280.85 308.84h3.7v1.15h-2.4v2.35h-1.3zM280.85 313.91h3.7v1.15h-2.4v2.35h-1.3zM280.85 318.98h3.7v1.15h-2.4v2.35h-1.3zM280.85 324.05h3.7v1.15h-2.4v2.35h-1.3zM280.85 329.12h3.7v1.15h-2.4v2.35h-1.3zM280.85 334.19h3.7v1.15h-2.4v2.35h-1.3zM280.85 339.26h3.7v1.15h-2.4v2.35h-1.3zM280.85 344.33h3.7v1.15h-2.4v2.35h-1.3zM280.85 349.40h3.7v1.15h-2.4v2.35h-1.3zM280.85 354.47h3.7v1.15h-2.4v2.35h-1.3zM280.85 359.54h3.7v1.15h-2.4v2.35h-1.3zM280.85 364.61h3.7v1.15h-2.4v2.35h-1.3zM280.85 369.68h3.7v1.15h-2.4v2.35h-1.3zM280.85 374.75h3.7v1.15h-2.4v2.35h-1.3zM280.85 379.82h3.7v1.15h-2.4v2.35h-1.3zM280.85 384.89h3.7v1.15h-2.4v2.35h-1.3zM280.85 389.96h3.7v1.15h-2.4v2.35h-1.3zM280.85 395.03h3.7v1.15h-2.4v2.35h-1.3zM280.85 400.10h3.7v1.15h-2.4v2.35h-1.3zM280.85 405.17h3.7v1.15h-2.4v2.35h-1.3zM280.85 410.24h3.7v1.15h-2.4v2.35h-1.3zM285.74 88.30h3.7v1.15h-2.4v2.35h-1.3zM285.74 93.37h3.7v1.15h-2.4v2.35h-1.3zM285.74 98.44h3.7v1.15h-2.4v2.35h-1.3zM285.74 103.50h3.7v1.15h-2.4v2.35h-1.3zM285.74 108.58h3.7v1.15h-2.4v2.35h-1.3zM285.74 113.65h3.7v1.15h-2.4v2.35h-1.3zM285.74 118.72h3.7v1.15h-2.4v2.35h-1.3zM285.74 123.78h3.7v1.15h-2.4v2.35h-1.3zM285.74 128.86h3.7v1.15h-2.4v2.35h-1.3zM285.74 133.93h3.7v1.15h-2.4v2.35h-1.3zM285.74 139.00h3.7v1.15h-2.4v2.35h-1.3zM285.74 144.06h3.7v1.15h-2.4v2.35h-1.3zM285.74 149.13h3.7v1.15h-2.4v2.35h-1.3zM285.74 154.21h3.7v1.15h-2.4v2.35h-1.3zM285.74 159.28h3.7v1.15h-2.4v2.35h-1.3zM285.74 164.34h3.7v1.15h-2.4v2.35h-1.3zM285.74 169.42h3.7v1.15h-2.4v2.35h-1.3zM285.74 174.49h3.7v1.15h-2.4v2.35h-1.3zM285.74 179.56h3.7v1.15h-2.4v2.35h-1.3zM285.74 184.62h3.7v1.15h-2.4v2.35h-1.3zM285.74 189.69h3.7v1.15h-2.4v2.35h-1.3zM285.74 194.77h3.7v1.15h-2.4v2.35h-1.3zM285.74 199.84h3.7v1.15h-2.4v2.35h-1.3zM285.74 204.91h3.7v1.15h-2.4v2.35h-1.3zM285.74 209.98h3.7v1.15h-2.4v2.35h-1.3zM285.74 215.05h3.7v1.15h-2.4v2.35h-1.3zM285.74 220.12h3.7v1.15h-2.4v2.35h-1.3zM285.74 225.19h3.7v1.15h-2.4v2.35h-1.3zM285.74 230.25h3.7v1.15h-2.4v2.35h-1.3zM285.74 235.33h3.7v1.15h-2.4v2.35h-1.3zM285.74 240.40h3.7v1.15h-2.4v2.35h-1.3zM285.74 245.47h3.7v1.15h-2.4v2.35h-1.3zM285.74 250.54h3.7v1.15h-2.4v2.35h-1.3zM285.74 255.61h3.7v1.15h-2.4v2.35h-1.3zM285.74 260.68h3.7v1.15h-2.4v2.35h-1.3zM285.74 265.75h3.7v1.15h-2.4v2.35h-1.3zM285.74 270.81h3.7v1.15h-2.4v2.35h-1.3zM285.74 275.88h3.7v1.15h-2.4v2.35h-1.3zM285.74 280.96h3.7v1.15h-2.4v2.35h-1.3zM285.74 286.02h3.7v1.15h-2.4v2.35h-1.3zM285.74 291.10h3.7v1.15h-2.4v2.35h-1.3zM285.74 296.17h3.7v1.15h-2.4v2.35h-1.3zM285.74 301.24h3.7v1.15h-2.4v2.35h-1.3zM285.74 306.31h3.7v1.15h-2.4v2.35h-1.3zM285.74 311.38h3.7v1.15h-2.4v2.35h-1.3zM285.74 316.45h3.7v1.15h-2.4v2.35h-1.3zM285.74 321.51h3.7v1.15h-2.4v2.35h-1.3zM285.74 326.59h3.7v1.15h-2.4v2.35h-1.3zM285.74 331.66h3.7v1.15h-2.4v2.35h-1.3zM285.74 336.73h3.7v1.15h-2.4v2.35h-1.3zM285.74 341.80h3.7v1.15h-2.4v2.35h-1.3zM285.74 346.87h3.7v1.15h-2.4v2.35h-1.3zM285.74 351.94h3.7v1.15h-2.4v2.35h-1.3zM285.74 357.00h3.7v1.15h-2.4v2.35h-1.3zM285.74 362.07h3.7v1.15h-2.4v2.35h-1.3zM285.74 367.15h3.7v1.15h-2.4v2.35h-1.3zM285.74 372.22h3.7v1.15h-2.4v2.35h-1.3zM285.74 377.29h3.7v1.15h-2.4v2.35h-1.3zM285.74 382.36h3.7v1.15h-2.4v2.35h-1.3zM285.74 387.43h3.7v1.15h-2.4v2.35h-1.3zM285.74 392.50h3.7v1.15h-2.4v2.35h-1.3zM285.74 397.56h3.7v1.15h-2.4v2.35h-1.3zM285.74 402.64h3.7v1.15h-2.4v2.35h-1.3zM285.74 407.71h3.7v1.15h-2.4v2.35h-1.3zM285.74 412.78h3.7v1.15h-2.4v2.35h-1.3zM290.63 90.83h3.7v1.15h-2.4v2.35h-1.3zM290.63 95.90h3.7v1.15h-2.4v2.35h-1.3zM290.63 100.97h3.7v1.15h-2.4v2.35h-1.3zM290.63 106.04h3.7v1.15h-2.4v2.35h-1.3zM290.63 111.11h3.7v1.15h-2.4v2.35h-1.3zM290.63 116.18h3.7v1.15h-2.4v2.35h-1.3zM290.63 121.25h3.7v1.15h-2.4v2.35h-1.3zM290.63 126.32h3.7v1.15h-2.4v2.35h-1.3zM290.63 131.39h3.7v1.15h-2.4v2.35h-1.3zM290.63 136.46h3.7v1.15h-2.4v2.35h-1.3zM290.63 141.53h3.7v1.15h-2.4v2.35h-1.3zM290.63 146.60h3.7v1.15h-2.4v2.35h-1.3zM290.63 151.67h3.7v1.15h-2.4v2.35h-1.3zM290.63 156.74h3.7v1.15h-2.4v2.35h-1.3zM290.63 161.81h3.7v1.15h-2.4v2.35h-1.3zM290.63 166.88h3.7v1.15h-2.4v2.35h-1.3zM290.63 171.95h3.7v1.15h-2.4v2.35h-1.3zM290.63 177.02h3.7v1.15h-2.4v2.35h-1.3zM290.63 182.09h3.7v1.15h-2.4v2.35h-1.3zM290.63 187.16h3.7v1.15h-2.4v2.35h-1.3zM290.63 192.23h3.7v1.15h-2.4v2.35h-1.3zM290.63 197.30h3.7v1.15h-2.4v2.35h-1.3zM290.63 202.37h3.7v1.15h-2.4v2.35h-1.3zM290.63 207.44h3.7v1.15h-2.4v2.35h-1.3zM290.63 212.51h3.7v1.15h-2.4v2.35h-1.3zM290.63 217.58h3.7v1.15h-2.4v2.35h-1.3zM290.63 222.65h3.7v1.15h-2.4v2.35h-1.3zM290.63 227.72h3.7v1.15h-2.4v2.35h-1.3zM290.63 232.79h3.7v1.15h-2.4v2.35h-1.3zM290.63 237.86h3.7v1.15h-2.4v2.35h-1.3zM290.63 242.93h3.7v1.15h-2.4v2.35h-1.3zM290.63 248.00h3.7v1.15h-2.4v2.35h-1.3zM290.63 253.07h3.7v1.15h-2.4v2.35h-1.3zM290.63 258.14h3.7v1.15h-2.4v2.35h-1.3zM290.63 263.21h3.7v1.15h-2.4v2.35h-1.3zM290.63 268.28h3.7v1.15h-2.4v2.35h-1.3zM290.63 273.35h3.7v1.15h-2.4v2.35h-1.3zM290.63 278.42h3.7v1.15h-2.4v2.35h-1.3zM290.63 283.49h3.7v1.15h-2.4v2.35h-1.3zM290.63 288.56h3.7v1.15h-2.4v2.35h-1.3zM290.63 293.63h3.7v1.15h-2.4v2.35h-1.3zM290.63 298.70h3.7v1.15h-2.4v2.35h-1.3zM290.63 303.77h3.7v1.15h-2.4v2.35h-1.3zM290.63 308.84h3.7v1.15h-2.4v2.35h-1.3zM290.63 313.91h3.7v1.15h-2.4v2.35h-1.3zM290.63 318.98h3.7v1.15h-2.4v2.35h-1.3zM290.63 324.05h3.7v1.15h-2.4v2.35h-1.3zM290.63 329.12h3.7v1.15h-2.4v2.35h-1.3zM290.63 334.19h3.7v1.15h-2.4v2.35h-1.3zM290.63 339.26h3.7v1.15h-2.4v2.35h-1.3zM290.63 344.33h3.7v1.15h-2.4v2.35h-1.3zM290.63 349.40h3.7v1.15h-2.4v2.35h-1.3zM290.63 354.47h3.7v1.15h-2.4v2.35h-1.3zM290.63 359.54h3.7v1.15h-2.4v2.35h-1.3zM290.63 364.61h3.7v1.15h-2.4v2.35h-1.3zM290.63 369.68h3.7v1.15h-2.4v2.35h-1.3zM290.63 374.75h3.7v1.15h-2.4v2.35h-1.3zM290.63 379.82h3.7v1.15h-2.4v2.35h-1.3zM290.63 384.89h3.7v1.15h-2.4v2.35h-1.3zM290.63 389.96h3.7v1.15h-2.4v2.35h-1.3zM290.63 395.03h3.7v1.15h-2.4v2.35h-1.3zM290.63 400.10h3.7v1.15h-2.4v2.35h-1.3zM290.63 405.17h3.7v1.15h-2.4v2.35h-1.3zM290.63 410.24h3.7v1.15h-2.4v2.35h-1.3zM295.52 88.30h3.7v1.15h-2.4v2.35h-1.3zM295.52 93.37h3.7v1.15h-2.4v2.35h-1.3zM295.52 98.44h3.7v1.15h-2.4v2.35h-1.3zM295.52 103.50h3.7v1.15h-2.4v2.35h-1.3zM295.52 108.58h3.7v1.15h-2.4v2.35h-1.3zM295.52 113.65h3.7v1.15h-2.4v2.35h-1.3zM295.52 118.72h3.7v1.15h-2.4v2.35h-1.3zM295.52 123.78h3.7v1.15h-2.4v2.35h-1.3zM295.52 128.86h3.7v1.15h-2.4v2.35h-1.3zM295.52 133.93h3.7v1.15h-2.4v2.35h-1.3zM295.52 139.00h3.7v1.15h-2.4v2.35h-1.3zM295.52 144.06h3.7v1.15h-2.4v2.35h-1.3zM295.52 149.13h3.7v1.15h-2.4v2.35h-1.3zM295.52 154.21h3.7v1.15h-2.4v2.35h-1.3zM295.52 159.28h3.7v1.15h-2.4v2.35h-1.3zM295.52 164.34h3.7v1.15h-2.4v2.35h-1.3zM295.52 169.42h3.7v1.15h-2.4v2.35h-1.3zM295.52 174.49h3.7v1.15h-2.4v2.35h-1.3zM295.52 179.56h3.7v1.15h-2.4v2.35h-1.3zM295.52 184.62h3.7v1.15h-2.4v2.35h-1.3zM295.52 189.69h3.7v1.15h-2.4v2.35h-1.3zM295.52 194.77h3.7v1.15h-2.4v2.35h-1.3zM295.52 199.84h3.7v1.15h-2.4v2.35h-1.3zM295.52 204.91h3.7v1.15h-2.4v2.35h-1.3zM295.52 209.98h3.7v1.15h-2.4v2.35h-1.3zM295.52 215.05h3.7v1.15h-2.4v2.35h-1.3zM295.52 220.12h3.7v1.15h-2.4v2.35h-1.3zM295.52 225.19h3.7v1.15h-2.4v2.35h-1.3zM295.52 230.25h3.7v1.15h-2.4v2.35h-1.3zM295.52 235.33h3.7v1.15h-2.4v2.35h-1.3zM295.52 240.40h3.7v1.15h-2.4v2.35h-1.3zM295.52 245.47h3.7v1.15h-2.4v2.35h-1.3zM295.52 250.54h3.7v1.15h-2.4v2.35h-1.3zM295.52 255.61h3.7v1.15h-2.4v2.35h-1.3zM295.52 260.68h3.7v1.15h-2.4v2.35h-1.3zM295.52 265.75h3.7v1.15h-2.4v2.35h-1.3zM295.52 270.81h3.7v1.15h-2.4v2.35h-1.3zM295.52 275.88h3.7v1.15h-2.4v2.35h-1.3zM295.52 280.96h3.7v1.15h-2.4v2.35h-1.3zM295.52 286.02h3.7v1.15h-2.4v2.35h-1.3zM295.52 291.10h3.7v1.15h-2.4v2.35h-1.3zM295.52 296.17h3.7v1.15h-2.4v2.35h-1.3zM295.52 301.24h3.7v1.15h-2.4v2.35h-1.3zM295.52 306.31h3.7v1.15h-2.4v2.35h-1.3zM295.52 311.38h3.7v1.15h-2.4v2.35h-1.3zM295.52 316.45h3.7v1.15h-2.4v2.35h-1.3zM295.52 321.51h3.7v1.15h-2.4v2.35h-1.3zM295.52 326.59h3.7v1.15h-2.4v2.35h-1.3zM295.52 331.66h3.7v1.15h-2.4v2.35h-1.3zM295.52 336.73h3.7v1.15h-2.4v2.35h-1.3zM295.52 341.80h3.7v1.15h-2.4v2.35h-1.3zM295.52 346.87h3.7v1.15h-2.4v2.35h-1.3zM295.52 351.94h3.7v1.15h-2.4v2.35h-1.3zM295.52 357.00h3.7v1.15h-2.4v2.35h-1.3zM295.52 362.07h3.7v1.15h-2.4v2.35h-1.3zM295.52 367.15h3.7v1.15h-2.4v2.35h-1.3zM295.52 372.22h3.7v1.15h-2.4v2.35h-1.3zM295.52 377.29h3.7v1.15h-2.4v2.35h-1.3zM295.52 382.36h3.7v1.15h-2.4v2.35h-1.3zM295.52 387.43h3.7v1.15h-2.4v2.35h-1.3zM295.52 392.50h3.7v1.15h-2.4v2.35h-1.3zM295.52 397.56h3.7v1.15h-2.4v2.35h-1.3zM295.52 402.64h3.7v1.15h-2.4v2.35h-1.3zM295.52 407.71h3.7v1.15h-2.4v2.35h-1.3zM295.52 412.78h3.7v1.15h-2.4v2.35h-1.3zM300.41 90.83h3.7v1.15h-2.4v2.35h-1.3zM300.41 95.90h3.7v1.15h-2.4v2.35h-1.3zM300.41 100.97h3.7v1.15h-2.4v2.35h-1.3zM300.41 106.04h3.7v1.15h-2.4v2.35h-1.3zM300.41 111.11h3.7v1.15h-2.4v2.35h-1.3zM300.41 116.18h3.7v1.15h-2.4v2.35h-1.3zM300.41 121.25h3.7v1.15h-2.4v2.35h-1.3zM300.41 126.32h3.7v1.15h-2.4v2.35h-1.3zM300.41 131.39h3.7v1.15h-2.4v2.35h-1.3zM300.41 136.46h3.7v1.15h-2.4v2.35h-1.3zM300.41 141.53h3.7v1.15h-2.4v2.35h-1.3zM300.41 146.60h3.7v1.15h-2.4v2.35h-1.3zM300.41 151.67h3.7v1.15h-2.4v2.35h-1.3zM300.41 156.74h3.7v1.15h-2.4v2.35h-1.3zM300.41 161.81h3.7v1.15h-2.4v2.35h-1.3zM300.41 166.88h3.7v1.15h-2.4v2.35h-1.3zM300.41 171.95h3.7v1.15h-2.4v2.35h-1.3zM300.41 177.02h3.7v1.15h-2.4v2.35h-1.3zM300.41 182.09h3.7v1.15h-2.4v2.35h-1.3zM300.41 187.16h3.7v1.15h-2.4v2.35h-1.3zM300.41 192.23h3.7v1.15h-2.4v2.35h-1.3zM300.41 197.30h3.7v1.15h-2.4v2.35h-1.3zM300.41 202.37h3.7v1.15h-2.4v2.35h-1.3zM300.41 207.44h3.7v1.15h-2.4v2.35h-1.3zM300.41 212.51h3.7v1.15h-2.4v2.35h-1.3zM300.41 217.58h3.7v1.15h-2.4v2.35h-1.3zM300.41 222.65h3.7v1.15h-2.4v2.35h-1.3zM300.41 227.72h3.7v1.15h-2.4v2.35h-1.3zM300.41 232.79h3.7v1.15h-2.4v2.35h-1.3zM300.41 237.86h3.7v1.15h-2.4v2.35h-1.3zM300.41 242.93h3.7v1.15h-2.4v2.35h-1.3zM300.41 248.00h3.7v1.15h-2.4v2.35h-1.3zM300.41 253.07h3.7v1.15h-2.4v2.35h-1.3zM300.41 258.14h3.7v1.15h-2.4v2.35h-1.3zM300.41 263.21h3.7v1.15h-2.4v2.35h-1.3zM300.41 268.28h3.7v1.15h-2.4v2.35h-1.3zM300.41 273.35h3.7v1.15h-2.4v2.35h-1.3zM300.41 278.42h3.7v1.15h-2.4v2.35h-1.3zM300.41 283.49h3.7v1.15h-2.4v2.35h-1.3zM300.41 288.56h3.7v1.15h-2.4v2.35h-1.3zM300.41 293.63h3.7v1.15h-2.4v2.35h-1.3zM300.41 298.70h3.7v1.15h-2.4v2.35h-1.3zM300.41 303.77h3.7v1.15h-2.4v2.35h-1.3zM300.41 308.84h3.7v1.15h-2.4v2.35h-1.3zM300.41 313.91h3.7v1.15h-2.4v2.35h-1.3zM300.41 318.98h3.7v1.15h-2.4v2.35h-1.3zM300.41 324.05h3.7v1.15h-2.4v2.35h-1.3zM300.41 329.12h3.7v1.15h-2.4v2.35h-1.3zM300.41 334.19h3.7v1.15h-2.4v2.35h-1.3zM300.41 339.26h3.7v1.15h-2.4v2.35h-1.3zM300.41 344.33h3.7v1.15h-2.4v2.35h-1.3zM300.41 349.40h3.7v1.15h-2.4v2.35h-1.3zM300.41 354.47h3.7v1.15h-2.4v2.35h-1.3zM300.41 359.54h3.7v1.15h-2.4v2.35h-1.3zM300.41 364.61h3.7v1.15h-2.4v2.35h-1.3zM300.41 369.68h3.7v1.15h-2.4v2.35h-1.3zM300.41 374.75h3.7v1.15h-2.4v2.35h-1.3zM300.41 379.82h3.7v1.15h-2.4v2.35h-1.3zM300.41 384.89h3.7v1.15h-2.4v2.35h-1.3zM300.41 389.96h3.7v1.15h-2.4v2.35h-1.3zM300.41 395.03h3.7v1.15h-2.4v2.35h-1.3zM300.41 400.10h3.7v1.15h-2.4v2.35h-1.3zM300.41 405.17h3.7v1.15h-2.4v2.35h-1.3zM300.41 410.24h3.7v1.15h-2.4v2.35h-1.3zM305.31 88.30h3.7v1.15h-2.4v2.35h-1.3zM305.31 93.37h3.7v1.15h-2.4v2.35h-1.3zM305.31 98.44h3.7v1.15h-2.4v2.35h-1.3zM305.31 103.50h3.7v1.15h-2.4v2.35h-1.3zM305.31 108.58h3.7v1.15h-2.4v2.35h-1.3zM305.31 113.65h3.7v1.15h-2.4v2.35h-1.3zM305.31 118.72h3.7v1.15h-2.4v2.35h-1.3zM305.31 123.78h3.7v1.15h-2.4v2.35h-1.3zM305.31 128.86h3.7v1.15h-2.4v2.35h-1.3zM305.31 133.93h3.7v1.15h-2.4v2.35h-1.3zM305.31 139.00h3.7v1.15h-2.4v2.35h-1.3zM305.31 144.06h3.7v1.15h-2.4v2.35h-1.3zM305.31 149.13h3.7v1.15h-2.4v2.35h-1.3zM305.31 154.21h3.7v1.15h-2.4v2.35h-1.3zM305.31 159.28h3.7v1.15h-2.4v2.35h-1.3zM305.31 164.34h3.7v1.15h-2.4v2.35h-1.3zM305.31 169.42h3.7v1.15h-2.4v2.35h-1.3zM305.31 174.49h3.7v1.15h-2.4v2.35h-1.3zM305.31 179.56h3.7v1.15h-2.4v2.35h-1.3zM305.31 184.62h3.7v1.15h-2.4v2.35h-1.3zM305.31 189.69h3.7v1.15h-2.4v2.35h-1.3zM305.31 194.77h3.7v1.15h-2.4v2.35h-1.3zM305.31 199.84h3.7v1.15h-2.4v2.35h-1.3zM305.31 204.91h3.7v1.15h-2.4v2.35h-1.3zM305.31 209.98h3.7v1.15h-2.4v2.35h-1.3zM305.31 215.05h3.7v1.15h-2.4v2.35h-1.3zM305.31 220.12h3.7v1.15h-2.4v2.35h-1.3zM305.31 225.19h3.7v1.15h-2.4v2.35h-1.3zM305.31 230.25h3.7v1.15h-2.4v2.35h-1.3zM305.31 235.33h3.7v1.15h-2.4v2.35h-1.3zM305.31 240.40h3.7v1.15h-2.4v2.35h-1.3zM305.31 245.47h3.7v1.15h-2.4v2.35h-1.3zM305.31 250.54h3.7v1.15h-2.4v2.35h-1.3zM305.31 255.61h3.7v1.15h-2.4v2.35h-1.3zM305.31 260.68h3.7v1.15h-2.4v2.35h-1.3zM305.31 265.75h3.7v1.15h-2.4v2.35h-1.3zM305.31 270.81h3.7v1.15h-2.4v2.35h-1.3zM305.31 275.88h3.7v1.15h-2.4v2.35h-1.3zM305.31 280.96h3.7v1.15h-2.4v2.35h-1.3zM305.31 286.02h3.7v1.15h-2.4v2.35h-1.3zM305.31 291.10h3.7v1.15h-2.4v2.35h-1.3zM305.31 296.17h3.7v1.15h-2.4v2.35h-1.3zM305.31 301.24h3.7v1.15h-2.4v2.35h-1.3zM305.31 306.31h3.7v1.15h-2.4v2.35h-1.3zM305.31 311.38h3.7v1.15h-2.4v2.35h-1.3zM305.31 316.45h3.7v1.15h-2.4v2.35h-1.3zM305.31 321.51h3.7v1.15h-2.4v2.35h-1.3zM305.31 326.59h3.7v1.15h-2.4v2.35h-1.3zM305.31 331.66h3.7v1.15h-2.4v2.35h-1.3zM305.31 336.73h3.7v1.15h-2.4v2.35h-1.3zM305.31 341.80h3.7v1.15h-2.4v2.35h-1.3zM305.31 346.87h3.7v1.15h-2.4v2.35h-1.3zM305.31 351.94h3.7v1.15h-2.4v2.35h-1.3zM305.31 357.00h3.7v1.15h-2.4v2.35h-1.3zM305.31 362.07h3.7v1.15h-2.4v2.35h-1.3zM305.31 367.15h3.7v1.15h-2.4v2.35h-1.3zM305.31 372.22h3.7v1.15h-2.4v2.35h-1.3zM305.31 377.29h3.7v1.15h-2.4v2.35h-1.3zM305.31 382.36h3.7v1.15h-2.4v2.35h-1.3zM305.31 387.43h3.7v1.15h-2.4v2.35h-1.3zM305.31 392.50h3.7v1.15h-2.4v2.35h-1.3zM305.31 397.56h3.7v1.15h-2.4v2.35h-1.3zM305.31 402.64h3.7v1.15h-2.4v2.35h-1.3zM305.31 407.71h3.7v1.15h-2.4v2.35h-1.3zM305.31 412.78h3.7v1.15h-2.4v2.35h-1.3z"/>
<rect x="280.80" y="97.35" width="16.00" height="306.10" fill="none" stroke="#000" stroke-width="1.5"/>
<path d="M322.10 131.45V123.40M318.10 123.40H326.10" stroke="#000" stroke-width="2.3" stroke-linecap="round" fill="none"/>
<rect x="314.10" y="131.45" width="16.00" height="272.00" fill="url(#pxB)" stroke="#000" stroke-width="1.5"/>
<text x="321.70" y="125.20" font-size="22" text-anchor="middle" stroke="#000" stroke-width="0.3">*</text>
<path d="M355.40 159.35V153.60M351.40 153.60H359.40" stroke="#000" stroke-width="2.3" stroke-linecap="round" fill="none"/>
<rect x="347.40" y="159.35" width="16.00" height="244.10" fill="url(#pkB)" stroke="#000" stroke-width="1.5"/>
<text x="355.60" y="156.40" font-size="22" text-anchor="middle" stroke="#000" stroke-width="0.3">***</text>
<path d="M388.70 188.55V186.20M384.70 186.20H392.70" stroke="#000" stroke-width="2.3" stroke-linecap="round" fill="none"/>
<rect x="380.70" y="188.55" width="16.00" height="214.90" fill="url(#pd)" stroke="#000" stroke-width="1.5"/>
<text x="388.90" y="188.30" font-size="22" text-anchor="middle" stroke="#000" stroke-width="0.3">***</text>
<clipPath id="clC"><rect x="447.10" y="95.65" width="16.00" height="307.80"/></clipPath>
<rect x="447.10" y="95.65" width="16.00" height="307.80" fill="#000"/>
<path clip-path="url(#clC)" fill="#fff" d="M437.41 85.76h3.7v1.15h-2.4v2.35h-1.3zM437.41 90.83h3.7v1.15h-2.4v2.35h-1.3zM437.41 95.90h3.7v1.15h-2.4v2.35h-1.3zM437.41 100.97h3.7v1.15h-2.4v2.35h-1.3zM437.41 106.04h3.7v1.15h-2.4v2.35h-1.3zM437.41 111.11h3.7v1.15h-2.4v2.35h-1.3zM437.41 116.18h3.7v1.15h-2.4v2.35h-1.3zM437.41 121.25h3.7v1.15h-2.4v2.35h-1.3zM437.41 126.32h3.7v1.15h-2.4v2.35h-1.3zM437.41 131.39h3.7v1.15h-2.4v2.35h-1.3zM437.41 136.46h3.7v1.15h-2.4v2.35h-1.3zM437.41 141.53h3.7v1.15h-2.4v2.35h-1.3zM437.41 146.60h3.7v1.15h-2.4v2.35h-1.3zM437.41 151.67h3.7v1.15h-2.4v2.35h-1.3zM437.41 156.74h3.7v1.15h-2.4v2.35h-1.3zM437.41 161.81h3.7v1.15h-2.4v2.35h-1.3zM437.41 166.88h3.7v1.15h-2.4v2.35h-1.3zM437.41 171.95h3.7v1.15h-2.4v2.35h-1.3zM437.41 177.02h3.7v1.15h-2.4v2.35h-1.3zM437.41 182.09h3.7v1.15h-2.4v2.35h-1.3zM437.41 187.16h3.7v1.15h-2.4v2.35h-1.3zM437.41 192.23h3.7v1.15h-2.4v2.35h-1.3zM437.41 197.30h3.7v1.15h-2.4v2.35h-1.3zM437.41 202.37h3.7v1.15h-2.4v2.35h-1.3zM437.41 207.44h3.7v1.15h-2.4v2.35h-1.3zM437.41 212.51h3.7v1.15h-2.4v2.35h-1.3zM437.41 217.58h3.7v1.15h-2.4v2.35h-1.3zM437.41 222.65h3.7v1.15h-2.4v2.35h-1.3zM437.41 227.72h3.7v1.15h-2.4v2.35h-1.3zM437.41 232.79h3.7v1.15h-2.4v2.35h-1.3zM437.41 237.86h3.7v1.15h-2.4v2.35h-1.3zM437.41 242.93h3.7v1.15h-2.4v2.35h-1.3zM437.41 248.00h3.7v1.15h-2.4v2.35h-1.3zM437.41 253.07h3.7v1.15h-2.4v2.35h-1.3zM437.41 258.14h3.7v1.15h-2.4v2.35h-1.3zM437.41 263.21h3.7v1.15h-2.4v2.35h-1.3zM437.41 268.28h3.7v1.15h-2.4v2.35h-1.3zM437.41 273.35h3.7v1.15h-2.4v2.35h-1.3zM437.41 278.42h3.7v1.15h-2.4v2.35h-1.3zM437.41 283.49h3.7v1.15h-2.4v2.35h-1.3zM437.41 288.56h3.7v1.15h-2.4v2.35h-1.3zM437.41 293.63h3.7v1.15h-2.4v2.35h-1.3zM437.41 298.70h3.7v1.15h-2.4v2.35h-1.3zM437.41 303.77h3.7v1.15h-2.4v2.35h-1.3zM437.41 308.84h3.7v1.15h-2.4v2.35h-1.3zM437.41 313.91h3.7v1.15h-2.4v2.35h-1.3zM437.41 318.98h3.7v1.15h-2.4v2.35h-1.3zM437.41 324.05h3.7v1.15h-2.4v2.35h-1.3zM437.41 329.12h3.7v1.15h-2.4v2.35h-1.3zM437.41 334.19h3.7v1.15h-2.4v2.35h-1.3zM437.41 339.26h3.7v1.15h-2.4v2.35h-1.3zM437.41 344.33h3.7v1.15h-2.4v2.35h-1.3zM437.41 349.40h3.7v1.15h-2.4v2.35h-1.3zM437.41 354.47h3.7v1.15h-2.4v2.35h-1.3zM437.41 359.54h3.7v1.15h-2.4v2.35h-1.3zM437.41 364.61h3.7v1.15h-2.4v2.35h-1.3zM437.41 369.68h3.7v1.15h-2.4v2.35h-1.3zM437.41 374.75h3.7v1.15h-2.4v2.35h-1.3zM437.41 379.82h3.7v1.15h-2.4v2.35h-1.3zM437.41 384.89h3.7v1.15h-2.4v2.35h-1.3zM437.41 389.96h3.7v1.15h-2.4v2.35h-1.3zM437.41 395.03h3.7v1.15h-2.4v2.35h-1.3zM437.41 400.10h3.7v1.15h-2.4v2.35h-1.3zM437.41 405.17h3.7v1.15h-2.4v2.35h-1.3zM437.41 410.24h3.7v1.15h-2.4v2.35h-1.3zM442.30 88.30h3.7v1.15h-2.4v2.35h-1.3zM442.30 93.37h3.7v1.15h-2.4v2.35h-1.3zM442.30 98.44h3.7v1.15h-2.4v2.35h-1.3zM442.30 103.50h3.7v1.15h-2.4v2.35h-1.3zM442.30 108.58h3.7v1.15h-2.4v2.35h-1.3zM442.30 113.65h3.7v1.15h-2.4v2.35h-1.3zM442.30 118.72h3.7v1.15h-2.4v2.35h-1.3zM442.30 123.78h3.7v1.15h-2.4v2.35h-1.3zM442.30 128.86h3.7v1.15h-2.4v2.35h-1.3zM442.30 133.93h3.7v1.15h-2.4v2.35h-1.3zM442.30 139.00h3.7v1.15h-2.4v2.35h-1.3zM442.30 144.06h3.7v1.15h-2.4v2.35h-1.3zM442.30 149.13h3.7v1.15h-2.4v2.35h-1.3zM442.30 154.21h3.7v1.15h-2.4v2.35h-1.3zM442.30 159.28h3.7v1.15h-2.4v2.35h-1.3zM442.30 164.34h3.7v1.15h-2.4v2.35h-1.3zM442.30 169.42h3.7v1.15h-2.4v2.35h-1.3zM442.30 174.49h3.7v1.15h-2.4v2.35h-1.3zM442.30 179.56h3.7v1.15h-2.4v2.35h-1.3zM442.30 184.62h3.7v1.15h-2.4v2.35h-1.3zM442.30 189.69h3.7v1.15h-2.4v2.35h-1.3zM442.30 194.77h3.7v1.15h-2.4v2.35h-1.3zM442.30 199.84h3.7v1.15h-2.4v2.35h-1.3zM442.30 204.91h3.7v1.15h-2.4v2.35h-1.3zM442.30 209.98h3.7v1.15h-2.4v2.35h-1.3zM442.30 215.05h3.7v1.15h-2.4v2.35h-1.3zM442.30 220.12h3.7v1.15h-2.4v2.35h-1.3zM442.30 225.19h3.7v1.15h-2.4v2.35h-1.3zM442.30 230.25h3.7v1.15h-2.4v2.35h-1.3zM442.30 235.33h3.7v1.15h-2.4v2.35h-1.3zM442.30 240.40h3.7v1.15h-2.4v2.35h-1.3zM442.30 245.47h3.7v1.15h-2.4v2.35h-1.3zM442.30 250.54h3.7v1.15h-2.4v2.35h-1.3zM442.30 255.61h3.7v1.15h-2.4v2.35h-1.3zM442.30 260.68h3.7v1.15h-2.4v2.35h-1.3zM442.30 265.75h3.7v1.15h-2.4v2.35h-1.3zM442.30 270.81h3.7v1.15h-2.4v2.35h-1.3zM442.30 275.88h3.7v1.15h-2.4v2.35h-1.3zM442.30 280.96h3.7v1.15h-2.4v2.35h-1.3zM442.30 286.02h3.7v1.15h-2.4v2.35h-1.3zM442.30 291.10h3.7v1.15h-2.4v2.35h-1.3zM442.30 296.17h3.7v1.15h-2.4v2.35h-1.3zM442.30 301.24h3.7v1.15h-2.4v2.35h-1.3zM442.30 306.31h3.7v1.15h-2.4v2.35h-1.3zM442.30 311.38h3.7v1.15h-2.4v2.35h-1.3zM442.30 316.45h3.7v1.15h-2.4v2.35h-1.3zM442.30 321.51h3.7v1.15h-2.4v2.35h-1.3zM442.30 326.59h3.7v1.15h-2.4v2.35h-1.3zM442.30 331.66h3.7v1.15h-2.4v2.35h-1.3zM442.30 336.73h3.7v1.15h-2.4v2.35h-1.3zM442.30 341.80h3.7v1.15h-2.4v2.35h-1.3zM442.30 346.87h3.7v1.15h-2.4v2.35h-1.3zM442.30 351.94h3.7v1.15h-2.4v2.35h-1.3zM442.30 357.00h3.7v1.15h-2.4v2.35h-1.3zM442.30 362.07h3.7v1.15h-2.4v2.35h-1.3zM442.30 367.15h3.7v1.15h-2.4v2.35h-1.3zM442.30 372.22h3.7v1.15h-2.4v2.35h-1.3zM442.30 377.29h3.7v1.15h-2.4v2.35h-1.3zM442.30 382.36h3.7v1.15h-2.4v2.35h-1.3zM442.30 387.43h3.7v1.15h-2.4v2.35h-1.3zM442.30 392.50h3.7v1.15h-2.4v2.35h-1.3zM442.30 397.56h3.7v1.15h-2.4v2.35h-1.3zM442.30 402.64h3.7v1.15h-2.4v2.35h-1.3zM442.30 407.71h3.7v1.15h-2.4v2.35h-1.3zM442.30 412.78h3.7v1.15h-2.4v2.35h-1.3zM447.19 85.76h3.7v1.15h-2.4v2.35h-1.3zM447.19 90.83h3.7v1.15h-2.4v2.35h-1.3zM447.19 95.90h3.7v1.15h-2.4v2.35h-1.3zM447.19 100.97h3.7v1.15h-2.4v2.35h-1.3zM447.19 106.04h3.7v1.15h-2.4v2.35h-1.3zM447.19 111.11h3.7v1.15h-2.4v2.35h-1.3zM447.19 116.18h3.7v1.15h-2.4v2.35h-1.3zM447.19 121.25h3.7v1.15h-2.4v2.35h-1.3zM447.19 126.32h3.7v1.15h-2.4v2.35h-1.3zM447.19 131.39h3.7v1.15h-2.4v2.35h-1.3zM447.19 136.46h3.7v1.15h-2.4v2.35h-1.3zM447.19 141.53h3.7v1.15h-2.4v2.35h-1.3zM447.19 146.60h3.7v1.15h-2.4v2.35h-1.3zM447.19 151.67h3.7v1.15h-2.4v2.35h-1.3zM447.19 156.74h3.7v1.15h-2.4v2.35h-1.3zM447.19 161.81h3.7v1.15h-2.4v2.35h-1.3zM447.19 166.88h3.7v1.15h-2.4v2.35h-1.3zM447.19 171.95h3.7v1.15h-2.4v2.35h-1.3zM447.19 177.02h3.7v1.15h-2.4v2.35h-1.3zM447.19 182.09h3.7v1.15h-2.4v2.35h-1.3zM447.19 187.16h3.7v1.15h-2.4v2.35h-1.3zM447.19 192.23h3.7v1.15h-2.4v2.35h-1.3zM447.19 197.30h3.7v1.15h-2.4v2.35h-1.3zM447.19 202.37h3.7v1.15h-2.4v2.35h-1.3zM447.19 207.44h3.7v1.15h-2.4v2.35h-1.3zM447.19 212.51h3.7v1.15h-2.4v2.35h-1.3zM447.19 217.58h3.7v1.15h-2.4v2.35h-1.3zM447.19 222.65h3.7v1.15h-2.4v2.35h-1.3zM447.19 227.72h3.7v1.15h-2.4v2.35h-1.3zM447.19 232.79h3.7v1.15h-2.4v2.35h-1.3zM447.19 237.86h3.7v1.15h-2.4v2.35h-1.3zM447.19 242.93h3.7v1.15h-2.4v2.35h-1.3zM447.19 248.00h3.7v1.15h-2.4v2.35h-1.3zM447.19 253.07h3.7v1.15h-2.4v2.35h-1.3zM447.19 258.14h3.7v1.15h-2.4v2.35h-1.3zM447.19 263.21h3.7v1.15h-2.4v2.35h-1.3zM447.19 268.28h3.7v1.15h-2.4v2.35h-1.3zM447.19 273.35h3.7v1.15h-2.4v2.35h-1.3zM447.19 278.42h3.7v1.15h-2.4v2.35h-1.3zM447.19 283.49h3.7v1.15h-2.4v2.35h-1.3zM447.19 288.56h3.7v1.15h-2.4v2.35h-1.3zM447.19 293.63h3.7v1.15h-2.4v2.35h-1.3zM447.19 298.70h3.7v1.15h-2.4v2.35h-1.3zM447.19 303.77h3.7v1.15h-2.4v2.35h-1.3zM447.19 308.84h3.7v1.15h-2.4v2.35h-1.3zM447.19 313.91h3.7v1.15h-2.4v2.35h-1.3zM447.19 318.98h3.7v1.15h-2.4v2.35h-1.3zM447.19 324.05h3.7v1.15h-2.4v2.35h-1.3zM447.19 329.12h3.7v1.15h-2.4v2.35h-1.3zM447.19 334.19h3.7v1.15h-2.4v2.35h-1.3zM447.19 339.26h3.7v1.15h-2.4v2.35h-1.3zM447.19 344.33h3.7v1.15h-2.4v2.35h-1.3zM447.19 349.40h3.7v1.15h-2.4v2.35h-1.3zM447.19 354.47h3.7v1.15h-2.4v2.35h-1.3zM447.19 359.54h3.7v1.15h-2.4v2.35h-1.3zM447.19 364.61h3.7v1.15h-2.4v2.35h-1.3zM447.19 369.68h3.7v1.15h-2.4v2.35h-1.3zM447.19 374.75h3.7v1.15h-2.4v2.35h-1.3zM447.19 379.82h3.7v1.15h-2.4v2.35h-1.3zM447.19 384.89h3.7v1.15h-2.4v2.35h-1.3zM447.19 389.96h3.7v1.15h-2.4v2.35h-1.3zM447.19 395.03h3.7v1.15h-2.4v2.35h-1.3zM447.19 400.10h3.7v1.15h-2.4v2.35h-1.3zM447.19 405.17h3.7v1.15h-2.4v2.35h-1.3zM447.19 410.24h3.7v1.15h-2.4v2.35h-1.3zM452.08 88.30h3.7v1.15h-2.4v2.35h-1.3zM452.08 93.37h3.7v1.15h-2.4v2.35h-1.3zM452.08 98.44h3.7v1.15h-2.4v2.35h-1.3zM452.08 103.50h3.7v1.15h-2.4v2.35h-1.3zM452.08 108.58h3.7v1.15h-2.4v2.35h-1.3zM452.08 113.65h3.7v1.15h-2.4v2.35h-1.3zM452.08 118.72h3.7v1.15h-2.4v2.35h-1.3zM452.08 123.78h3.7v1.15h-2.4v2.35h-1.3zM452.08 128.86h3.7v1.15h-2.4v2.35h-1.3zM452.08 133.93h3.7v1.15h-2.4v2.35h-1.3zM452.08 139.00h3.7v1.15h-2.4v2.35h-1.3zM452.08 144.06h3.7v1.15h-2.4v2.35h-1.3zM452.08 149.13h3.7v1.15h-2.4v2.35h-1.3zM452.08 154.21h3.7v1.15h-2.4v2.35h-1.3zM452.08 159.28h3.7v1.15h-2.4v2.35h-1.3zM452.08 164.34h3.7v1.15h-2.4v2.35h-1.3zM452.08 169.42h3.7v1.15h-2.4v2.35h-1.3zM452.08 174.49h3.7v1.15h-2.4v2.35h-1.3zM452.08 179.56h3.7v1.15h-2.4v2.35h-1.3zM452.08 184.62h3.7v1.15h-2.4v2.35h-1.3zM452.08 189.69h3.7v1.15h-2.4v2.35h-1.3zM452.08 194.77h3.7v1.15h-2.4v2.35h-1.3zM452.08 199.84h3.7v1.15h-2.4v2.35h-1.3zM452.08 204.91h3.7v1.15h-2.4v2.35h-1.3zM452.08 209.98h3.7v1.15h-2.4v2.35h-1.3zM452.08 215.05h3.7v1.15h-2.4v2.35h-1.3zM452.08 220.12h3.7v1.15h-2.4v2.35h-1.3zM452.08 225.19h3.7v1.15h-2.4v2.35h-1.3zM452.08 230.25h3.7v1.15h-2.4v2.35h-1.3zM452.08 235.33h3.7v1.15h-2.4v2.35h-1.3zM452.08 240.40h3.7v1.15h-2.4v2.35h-1.3zM452.08 245.47h3.7v1.15h-2.4v2.35h-1.3zM452.08 250.54h3.7v1.15h-2.4v2.35h-1.3zM452.08 255.61h3.7v1.15h-2.4v2.35h-1.3zM452.08 260.68h3.7v1.15h-2.4v2.35h-1.3zM452.08 265.75h3.7v1.15h-2.4v2.35h-1.3zM452.08 270.81h3.7v1.15h-2.4v2.35h-1.3zM452.08 275.88h3.7v1.15h-2.4v2.35h-1.3zM452.08 280.96h3.7v1.15h-2.4v2.35h-1.3zM452.08 286.02h3.7v1.15h-2.4v2.35h-1.3zM452.08 291.10h3.7v1.15h-2.4v2.35h-1.3zM452.08 296.17h3.7v1.15h-2.4v2.35h-1.3zM452.08 301.24h3.7v1.15h-2.4v2.35h-1.3zM452.08 306.31h3.7v1.15h-2.4v2.35h-1.3zM452.08 311.38h3.7v1.15h-2.4v2.35h-1.3zM452.08 316.45h3.7v1.15h-2.4v2.35h-1.3zM452.08 321.51h3.7v1.15h-2.4v2.35h-1.3zM452.08 326.59h3.7v1.15h-2.4v2.35h-1.3zM452.08 331.66h3.7v1.15h-2.4v2.35h-1.3zM452.08 336.73h3.7v1.15h-2.4v2.35h-1.3zM452.08 341.80h3.7v1.15h-2.4v2.35h-1.3zM452.08 346.87h3.7v1.15h-2.4v2.35h-1.3zM452.08 351.94h3.7v1.15h-2.4v2.35h-1.3zM452.08 357.00h3.7v1.15h-2.4v2.35h-1.3zM452.08 362.07h3.7v1.15h-2.4v2.35h-1.3zM452.08 367.15h3.7v1.15h-2.4v2.35h-1.3zM452.08 372.22h3.7v1.15h-2.4v2.35h-1.3zM452.08 377.29h3.7v1.15h-2.4v2.35h-1.3zM452.08 382.36h3.7v1.15h-2.4v2.35h-1.3zM452.08 387.43h3.7v1.15h-2.4v2.35h-1.3zM452.08 392.50h3.7v1.15h-2.4v2.35h-1.3zM452.08 397.56h3.7v1.15h-2.4v2.35h-1.3zM452.08 402.64h3.7v1.15h-2.4v2.35h-1.3zM452.08 407.71h3.7v1.15h-2.4v2.35h-1.3zM452.08 412.78h3.7v1.15h-2.4v2.35h-1.3zM456.98 85.76h3.7v1.15h-2.4v2.35h-1.3zM456.98 90.83h3.7v1.15h-2.4v2.35h-1.3zM456.98 95.90h3.7v1.15h-2.4v2.35h-1.3zM456.98 100.97h3.7v1.15h-2.4v2.35h-1.3zM456.98 106.04h3.7v1.15h-2.4v2.35h-1.3zM456.98 111.11h3.7v1.15h-2.4v2.35h-1.3zM456.98 116.18h3.7v1.15h-2.4v2.35h-1.3zM456.98 121.25h3.7v1.15h-2.4v2.35h-1.3zM456.98 126.32h3.7v1.15h-2.4v2.35h-1.3zM456.98 131.39h3.7v1.15h-2.4v2.35h-1.3zM456.98 136.46h3.7v1.15h-2.4v2.35h-1.3zM456.98 141.53h3.7v1.15h-2.4v2.35h-1.3zM456.98 146.60h3.7v1.15h-2.4v2.35h-1.3zM456.98 151.67h3.7v1.15h-2.4v2.35h-1.3zM456.98 156.74h3.7v1.15h-2.4v2.35h-1.3zM456.98 161.81h3.7v1.15h-2.4v2.35h-1.3zM456.98 166.88h3.7v1.15h-2.4v2.35h-1.3zM456.98 171.95h3.7v1.15h-2.4v2.35h-1.3zM456.98 177.02h3.7v1.15h-2.4v2.35h-1.3zM456.98 182.09h3.7v1.15h-2.4v2.35h-1.3zM456.98 187.16h3.7v1.15h-2.4v2.35h-1.3zM456.98 192.23h3.7v1.15h-2.4v2.35h-1.3zM456.98 197.30h3.7v1.15h-2.4v2.35h-1.3zM456.98 202.37h3.7v1.15h-2.4v2.35h-1.3zM456.98 207.44h3.7v1.15h-2.4v2.35h-1.3zM456.98 212.51h3.7v1.15h-2.4v2.35h-1.3zM456.98 217.58h3.7v1.15h-2.4v2.35h-1.3zM456.98 222.65h3.7v1.15h-2.4v2.35h-1.3zM456.98 227.72h3.7v1.15h-2.4v2.35h-1.3zM456.98 232.79h3.7v1.15h-2.4v2.35h-1.3zM456.98 237.86h3.7v1.15h-2.4v2.35h-1.3zM456.98 242.93h3.7v1.15h-2.4v2.35h-1.3zM456.98 248.00h3.7v1.15h-2.4v2.35h-1.3zM456.98 253.07h3.7v1.15h-2.4v2.35h-1.3zM456.98 258.14h3.7v1.15h-2.4v2.35h-1.3zM456.98 263.21h3.7v1.15h-2.4v2.35h-1.3zM456.98 268.28h3.7v1.15h-2.4v2.35h-1.3zM456.98 273.35h3.7v1.15h-2.4v2.35h-1.3zM456.98 278.42h3.7v1.15h-2.4v2.35h-1.3zM456.98 283.49h3.7v1.15h-2.4v2.35h-1.3zM456.98 288.56h3.7v1.15h-2.4v2.35h-1.3zM456.98 293.63h3.7v1.15h-2.4v2.35h-1.3zM456.98 298.70h3.7v1.15h-2.4v2.35h-1.3zM456.98 303.77h3.7v1.15h-2.4v2.35h-1.3zM456.98 308.84h3.7v1.15h-2.4v2.35h-1.3zM456.98 313.91h3.7v1.15h-2.4v2.35h-1.3zM456.98 318.98h3.7v1.15h-2.4v2.35h-1.3zM456.98 324.05h3.7v1.15h-2.4v2.35h-1.3zM456.98 329.12h3.7v1.15h-2.4v2.35h-1.3zM456.98 334.19h3.7v1.15h-2.4v2.35h-1.3zM456.98 339.26h3.7v1.15h-2.4v2.35h-1.3zM456.98 344.33h3.7v1.15h-2.4v2.35h-1.3zM456.98 349.40h3.7v1.15h-2.4v2.35h-1.3zM456.98 354.47h3.7v1.15h-2.4v2.35h-1.3zM456.98 359.54h3.7v1.15h-2.4v2.35h-1.3zM456.98 364.61h3.7v1.15h-2.4v2.35h-1.3zM456.98 369.68h3.7v1.15h-2.4v2.35h-1.3zM456.98 374.75h3.7v1.15h-2.4v2.35h-1.3zM456.98 379.82h3.7v1.15h-2.4v2.35h-1.3zM456.98 384.89h3.7v1.15h-2.4v2.35h-1.3zM456.98 389.96h3.7v1.15h-2.4v2.35h-1.3zM456.98 395.03h3.7v1.15h-2.4v2.35h-1.3zM456.98 400.10h3.7v1.15h-2.4v2.35h-1.3zM456.98 405.17h3.7v1.15h-2.4v2.35h-1.3zM456.98 410.24h3.7v1.15h-2.4v2.35h-1.3zM461.87 88.30h3.7v1.15h-2.4v2.35h-1.3zM461.87 93.37h3.7v1.15h-2.4v2.35h-1.3zM461.87 98.44h3.7v1.15h-2.4v2.35h-1.3zM461.87 103.50h3.7v1.15h-2.4v2.35h-1.3zM461.87 108.58h3.7v1.15h-2.4v2.35h-1.3zM461.87 113.65h3.7v1.15h-2.4v2.35h-1.3zM461.87 118.72h3.7v1.15h-2.4v2.35h-1.3zM461.87 123.78h3.7v1.15h-2.4v2.35h-1.3zM461.87 128.86h3.7v1.15h-2.4v2.35h-1.3zM461.87 133.93h3.7v1.15h-2.4v2.35h-1.3zM461.87 139.00h3.7v1.15h-2.4v2.35h-1.3zM461.87 144.06h3.7v1.15h-2.4v2.35h-1.3zM461.87 149.13h3.7v1.15h-2.4v2.35h-1.3zM461.87 154.21h3.7v1.15h-2.4v2.35h-1.3zM461.87 159.28h3.7v1.15h-2.4v2.35h-1.3zM461.87 164.34h3.7v1.15h-2.4v2.35h-1.3zM461.87 169.42h3.7v1.15h-2.4v2.35h-1.3zM461.87 174.49h3.7v1.15h-2.4v2.35h-1.3zM461.87 179.56h3.7v1.15h-2.4v2.35h-1.3zM461.87 184.62h3.7v1.15h-2.4v2.35h-1.3zM461.87 189.69h3.7v1.15h-2.4v2.35h-1.3zM461.87 194.77h3.7v1.15h-2.4v2.35h-1.3zM461.87 199.84h3.7v1.15h-2.4v2.35h-1.3zM461.87 204.91h3.7v1.15h-2.4v2.35h-1.3zM461.87 209.98h3.7v1.15h-2.4v2.35h-1.3zM461.87 215.05h3.7v1.15h-2.4v2.35h-1.3zM461.87 220.12h3.7v1.15h-2.4v2.35h-1.3zM461.87 225.19h3.7v1.15h-2.4v2.35h-1.3zM461.87 230.25h3.7v1.15h-2.4v2.35h-1.3zM461.87 235.33h3.7v1.15h-2.4v2.35h-1.3zM461.87 240.40h3.7v1.15h-2.4v2.35h-1.3zM461.87 245.47h3.7v1.15h-2.4v2.35h-1.3zM461.87 250.54h3.7v1.15h-2.4v2.35h-1.3zM461.87 255.61h3.7v1.15h-2.4v2.35h-1.3zM461.87 260.68h3.7v1.15h-2.4v2.35h-1.3zM461.87 265.75h3.7v1.15h-2.4v2.35h-1.3zM461.87 270.81h3.7v1.15h-2.4v2.35h-1.3zM461.87 275.88h3.7v1.15h-2.4v2.35h-1.3zM461.87 280.96h3.7v1.15h-2.4v2.35h-1.3zM461.87 286.02h3.7v1.15h-2.4v2.35h-1.3zM461.87 291.10h3.7v1.15h-2.4v2.35h-1.3zM461.87 296.17h3.7v1.15h-2.4v2.35h-1.3zM461.87 301.24h3.7v1.15h-2.4v2.35h-1.3zM461.87 306.31h3.7v1.15h-2.4v2.35h-1.3zM461.87 311.38h3.7v1.15h-2.4v2.35h-1.3zM461.87 316.45h3.7v1.15h-2.4v2.35h-1.3zM461.87 321.51h3.7v1.15h-2.4v2.35h-1.3zM461.87 326.59h3.7v1.15h-2.4v2.35h-1.3zM461.87 331.66h3.7v1.15h-2.4v2.35h-1.3zM461.87 336.73h3.7v1.15h-2.4v2.35h-1.3zM461.87 341.80h3.7v1.15h-2.4v2.35h-1.3zM461.87 346.87h3.7v1.15h-2.4v2.35h-1.3zM461.87 351.94h3.7v1.15h-2.4v2.35h-1.3zM461.87 357.00h3.7v1.15h-2.4v2.35h-1.3zM461.87 362.07h3.7v1.15h-2.4v2.35h-1.3zM461.87 367.15h3.7v1.15h-2.4v2.35h-1.3zM461.87 372.22h3.7v1.15h-2.4v2.35h-1.3zM461.87 377.29h3.7v1.15h-2.4v2.35h-1.3zM461.87 382.36h3.7v1.15h-2.4v2.35h-1.3zM461.87 387.43h3.7v1.15h-2.4v2.35h-1.3zM461.87 392.50h3.7v1.15h-2.4v2.35h-1.3zM461.87 397.56h3.7v1.15h-2.4v2.35h-1.3zM461.87 402.64h3.7v1.15h-2.4v2.35h-1.3zM461.87 407.71h3.7v1.15h-2.4v2.35h-1.3zM461.87 412.78h3.7v1.15h-2.4v2.35h-1.3zM466.76 85.76h3.7v1.15h-2.4v2.35h-1.3zM466.76 90.83h3.7v1.15h-2.4v2.35h-1.3zM466.76 95.90h3.7v1.15h-2.4v2.35h-1.3zM466.76 100.97h3.7v1.15h-2.4v2.35h-1.3zM466.76 106.04h3.7v1.15h-2.4v2.35h-1.3zM466.76 111.11h3.7v1.15h-2.4v2.35h-1.3zM466.76 116.18h3.7v1.15h-2.4v2.35h-1.3zM466.76 121.25h3.7v1.15h-2.4v2.35h-1.3zM466.76 126.32h3.7v1.15h-2.4v2.35h-1.3zM466.76 131.39h3.7v1.15h-2.4v2.35h-1.3zM466.76 136.46h3.7v1.15h-2.4v2.35h-1.3zM466.76 141.53h3.7v1.15h-2.4v2.35h-1.3zM466.76 146.60h3.7v1.15h-2.4v2.35h-1.3zM466.76 151.67h3.7v1.15h-2.4v2.35h-1.3zM466.76 156.74h3.7v1.15h-2.4v2.35h-1.3zM466.76 161.81h3.7v1.15h-2.4v2.35h-1.3zM466.76 166.88h3.7v1.15h-2.4v2.35h-1.3zM466.76 171.95h3.7v1.15h-2.4v2.35h-1.3zM466.76 177.02h3.7v1.15h-2.4v2.35h-1.3zM466.76 182.09h3.7v1.15h-2.4v2.35h-1.3zM466.76 187.16h3.7v1.15h-2.4v2.35h-1.3zM466.76 192.23h3.7v1.15h-2.4v2.35h-1.3zM466.76 197.30h3.7v1.15h-2.4v2.35h-1.3zM466.76 202.37h3.7v1.15h-2.4v2.35h-1.3zM466.76 207.44h3.7v1.15h-2.4v2.35h-1.3zM466.76 212.51h3.7v1.15h-2.4v2.35h-1.3zM466.76 217.58h3.7v1.15h-2.4v2.35h-1.3zM466.76 222.65h3.7v1.15h-2.4v2.35h-1.3zM466.76 227.72h3.7v1.15h-2.4v2.35h-1.3zM466.76 232.79h3.7v1.15h-2.4v2.35h-1.3zM466.76 237.86h3.7v1.15h-2.4v2.35h-1.3zM466.76 242.93h3.7v1.15h-2.4v2.35h-1.3zM466.76 248.00h3.7v1.15h-2.4v2.35h-1.3zM466.76 253.07h3.7v1.15h-2.4v2.35h-1.3zM466.76 258.14h3.7v1.15h-2.4v2.35h-1.3zM466.76 263.21h3.7v1.15h-2.4v2.35h-1.3zM466.76 268.28h3.7v1.15h-2.4v2.35h-1.3zM466.76 273.35h3.7v1.15h-2.4v2.35h-1.3zM466.76 278.42h3.7v1.15h-2.4v2.35h-1.3zM466.76 283.49h3.7v1.15h-2.4v2.35h-1.3zM466.76 288.56h3.7v1.15h-2.4v2.35h-1.3zM466.76 293.63h3.7v1.15h-2.4v2.35h-1.3zM466.76 298.70h3.7v1.15h-2.4v2.35h-1.3zM466.76 303.77h3.7v1.15h-2.4v2.35h-1.3zM466.76 308.84h3.7v1.15h-2.4v2.35h-1.3zM466.76 313.91h3.7v1.15h-2.4v2.35h-1.3zM466.76 318.98h3.7v1.15h-2.4v2.35h-1.3zM466.76 324.05h3.7v1.15h-2.4v2.35h-1.3zM466.76 329.12h3.7v1.15h-2.4v2.35h-1.3zM466.76 334.19h3.7v1.15h-2.4v2.35h-1.3zM466.76 339.26h3.7v1.15h-2.4v2.35h-1.3zM466.76 344.33h3.7v1.15h-2.4v2.35h-1.3zM466.76 349.40h3.7v1.15h-2.4v2.35h-1.3zM466.76 354.47h3.7v1.15h-2.4v2.35h-1.3zM466.76 359.54h3.7v1.15h-2.4v2.35h-1.3zM466.76 364.61h3.7v1.15h-2.4v2.35h-1.3zM466.76 369.68h3.7v1.15h-2.4v2.35h-1.3zM466.76 374.75h3.7v1.15h-2.4v2.35h-1.3zM466.76 379.82h3.7v1.15h-2.4v2.35h-1.3zM466.76 384.89h3.7v1.15h-2.4v2.35h-1.3zM466.76 389.96h3.7v1.15h-2.4v2.35h-1.3zM466.76 395.03h3.7v1.15h-2.4v2.35h-1.3zM466.76 400.10h3.7v1.15h-2.4v2.35h-1.3zM466.76 405.17h3.7v1.15h-2.4v2.35h-1.3zM466.76 410.24h3.7v1.15h-2.4v2.35h-1.3zM471.65 88.30h3.7v1.15h-2.4v2.35h-1.3zM471.65 93.37h3.7v1.15h-2.4v2.35h-1.3zM471.65 98.44h3.7v1.15h-2.4v2.35h-1.3zM471.65 103.50h3.7v1.15h-2.4v2.35h-1.3zM471.65 108.58h3.7v1.15h-2.4v2.35h-1.3zM471.65 113.65h3.7v1.15h-2.4v2.35h-1.3zM471.65 118.72h3.7v1.15h-2.4v2.35h-1.3zM471.65 123.78h3.7v1.15h-2.4v2.35h-1.3zM471.65 128.86h3.7v1.15h-2.4v2.35h-1.3zM471.65 133.93h3.7v1.15h-2.4v2.35h-1.3zM471.65 139.00h3.7v1.15h-2.4v2.35h-1.3zM471.65 144.06h3.7v1.15h-2.4v2.35h-1.3zM471.65 149.13h3.7v1.15h-2.4v2.35h-1.3zM471.65 154.21h3.7v1.15h-2.4v2.35h-1.3zM471.65 159.28h3.7v1.15h-2.4v2.35h-1.3zM471.65 164.34h3.7v1.15h-2.4v2.35h-1.3zM471.65 169.42h3.7v1.15h-2.4v2.35h-1.3zM471.65 174.49h3.7v1.15h-2.4v2.35h-1.3zM471.65 179.56h3.7v1.15h-2.4v2.35h-1.3zM471.65 184.62h3.7v1.15h-2.4v2.35h-1.3zM471.65 189.69h3.7v1.15h-2.4v2.35h-1.3zM471.65 194.77h3.7v1.15h-2.4v2.35h-1.3zM471.65 199.84h3.7v1.15h-2.4v2.35h-1.3zM471.65 204.91h3.7v1.15h-2.4v2.35h-1.3zM471.65 209.98h3.7v1.15h-2.4v2.35h-1.3zM471.65 215.05h3.7v1.15h-2.4v2.35h-1.3zM471.65 220.12h3.7v1.15h-2.4v2.35h-1.3zM471.65 225.19h3.7v1.15h-2.4v2.35h-1.3zM471.65 230.25h3.7v1.15h-2.4v2.35h-1.3zM471.65 235.33h3.7v1.15h-2.4v2.35h-1.3zM471.65 240.40h3.7v1.15h-2.4v2.35h-1.3zM471.65 245.47h3.7v1.15h-2.4v2.35h-1.3zM471.65 250.54h3.7v1.15h-2.4v2.35h-1.3zM471.65 255.61h3.7v1.15h-2.4v2.35h-1.3zM471.65 260.68h3.7v1.15h-2.4v2.35h-1.3zM471.65 265.75h3.7v1.15h-2.4v2.35h-1.3zM471.65 270.81h3.7v1.15h-2.4v2.35h-1.3zM471.65 275.88h3.7v1.15h-2.4v2.35h-1.3zM471.65 280.96h3.7v1.15h-2.4v2.35h-1.3zM471.65 286.02h3.7v1.15h-2.4v2.35h-1.3zM471.65 291.10h3.7v1.15h-2.4v2.35h-1.3zM471.65 296.17h3.7v1.15h-2.4v2.35h-1.3zM471.65 301.24h3.7v1.15h-2.4v2.35h-1.3zM471.65 306.31h3.7v1.15h-2.4v2.35h-1.3zM471.65 311.38h3.7v1.15h-2.4v2.35h-1.3zM471.65 316.45h3.7v1.15h-2.4v2.35h-1.3zM471.65 321.51h3.7v1.15h-2.4v2.35h-1.3zM471.65 326.59h3.7v1.15h-2.4v2.35h-1.3zM471.65 331.66h3.7v1.15h-2.4v2.35h-1.3zM471.65 336.73h3.7v1.15h-2.4v2.35h-1.3zM471.65 341.80h3.7v1.15h-2.4v2.35h-1.3zM471.65 346.87h3.7v1.15h-2.4v2.35h-1.3zM471.65 351.94h3.7v1.15h-2.4v2.35h-1.3zM471.65 357.00h3.7v1.15h-2.4v2.35h-1.3zM471.65 362.07h3.7v1.15h-2.4v2.35h-1.3zM471.65 367.15h3.7v1.15h-2.4v2.35h-1.3zM471.65 372.22h3.7v1.15h-2.4v2.35h-1.3zM471.65 377.29h3.7v1.15h-2.4v2.35h-1.3zM471.65 382.36h3.7v1.15h-2.4v2.35h-1.3zM471.65 387.43h3.7v1.15h-2.4v2.35h-1.3zM471.65 392.50h3.7v1.15h-2.4v2.35h-1.3zM471.65 397.56h3.7v1.15h-2.4v2.35h-1.3zM471.65 402.64h3.7v1.15h-2.4v2.35h-1.3zM471.65 407.71h3.7v1.15h-2.4v2.35h-1.3zM471.65 412.78h3.7v1.15h-2.4v2.35h-1.3z"/>
<rect x="447.10" y="95.65" width="16.00" height="307.80" fill="none" stroke="#000" stroke-width="1.5"/>
<path d="M488.40 135.65V128.40M484.40 128.40H492.40" stroke="#000" stroke-width="2.3" stroke-linecap="round" fill="none"/>
<rect x="480.40" y="135.65" width="16.00" height="267.80" fill="url(#pxC)" stroke="#000" stroke-width="1.5"/>
<path d="M521.70 158.95V152.10M517.70 152.10H525.70" stroke="#000" stroke-width="2.3" stroke-linecap="round" fill="none"/>
<rect x="513.70" y="158.95" width="16.00" height="244.50" fill="url(#pkC)" stroke="#000" stroke-width="1.5"/>
<text x="521.90" y="154.20" font-size="22" text-anchor="middle" stroke="#000" stroke-width="0.3">***</text>
<path d="M555.00 190.85V187.60M551.00 187.60H559.00" stroke="#000" stroke-width="2.3" stroke-linecap="round" fill="none"/>
<rect x="547.00" y="190.85" width="16.00" height="212.60" fill="url(#pd)" stroke="#000" stroke-width="1.5"/>
<text x="553.30" y="190.30" font-size="22" text-anchor="middle" stroke="#000" stroke-width="0.3">***</text>
<path d="M89.5 69.3V403.45" stroke="#000" stroke-width="2.7" fill="none"/>
<path d="M82.3 403.45H588.2" stroke="#000" stroke-width="2.8" stroke-linecap="round" fill="none"/>
<path d="M82.2 70.60H89.5" stroke="#000" stroke-width="2.5" stroke-linecap="round" fill="none"/>
<text class="b" transform="translate(80.1 77.15) scale(0.89 1)" font-size="21" text-anchor="end" stroke="#000" stroke-width="0.35">100</text>
<path d="M82.2 137.17H89.5" stroke="#000" stroke-width="2.5" stroke-linecap="round" fill="none"/>
<text class="b" transform="translate(80.1 143.72) scale(0.89 1)" font-size="21" text-anchor="end" stroke="#000" stroke-width="0.35">80</text>
<path d="M82.2 203.74H89.5" stroke="#000" stroke-width="2.5" stroke-linecap="round" fill="none"/>
<text class="b" transform="translate(80.1 210.29) scale(0.89 1)" font-size="21" text-anchor="end" stroke="#000" stroke-width="0.35">60</text>
<path d="M82.2 270.31H89.5" stroke="#000" stroke-width="2.5" stroke-linecap="round" fill="none"/>
<text class="b" transform="translate(80.1 276.86) scale(0.89 1)" font-size="21" text-anchor="end" stroke="#000" stroke-width="0.35">40</text>
<path d="M82.2 336.88H89.5" stroke="#000" stroke-width="2.5" stroke-linecap="round" fill="none"/>
<text class="b" transform="translate(80.1 343.43) scale(0.89 1)" font-size="21" text-anchor="end" stroke="#000" stroke-width="0.35">20</text>
<text class="b" transform="translate(80.1 410.00) scale(0.89 1)" font-size="21" text-anchor="end" stroke="#000" stroke-width="0.35">0</text>
<rect x="49.2" y="73.5" width="3.95" height="4.5" fill="#fff"/><rect x="56.0" y="73.5" width="3.4" height="4.5" fill="#fff"/>
<path d="M172.20 403.45V410.4" stroke="#000" stroke-width="2.5" stroke-linecap="round" fill="none"/>
<text class="b" transform="translate(172.20 425.6) rotate(-45)" x="0.3" y="7.0" font-size="19.6" text-anchor="end" stroke="#000" stroke-width="0.2">A</text>
<path d="M338.75 403.45V410.4" stroke="#000" stroke-width="2.5" stroke-linecap="round" fill="none"/>
<text class="b" transform="translate(338.75 425.6) rotate(-45)" x="0.3" y="7.0" font-size="19.6" text-anchor="end" stroke="#000" stroke-width="0.2">B</text>
<path d="M505.30 403.45V410.4" stroke="#000" stroke-width="2.5" stroke-linecap="round" fill="none"/>
<text class="b" transform="translate(505.30 425.6) rotate(-45)" x="0.3" y="7.0" font-size="19.6" text-anchor="end" stroke="#000" stroke-width="0.2">C</text>
<text class="b" transform="translate(37.1 236.5) rotate(-90)" font-size="21.65" text-anchor="middle">Potency (%)</text>
<text class="b" x="338.6" y="462.5" font-size="20.4" text-anchor="middle">Samples</text>
<clipPath id="clL"><rect x="597.5" y="54.70" width="26.90" height="13.60"/></clipPath>
<rect x="597.5" y="54.70" width="26.90" height="13.60" fill="#000"/>
<path clip-path="url(#clL)" fill="#fff" d="M593.10 47.44h3.4v1.15h-2.1v2.2h-1.3zM593.10 52.51h3.4v1.15h-2.1v2.2h-1.3zM593.10 57.58h3.4v1.15h-2.1v2.2h-1.3zM593.10 62.65h3.4v1.15h-2.1v2.2h-1.3zM593.10 67.72h3.4v1.15h-2.1v2.2h-1.3zM593.10 72.79h3.4v1.15h-2.1v2.2h-1.3zM593.10 77.86h3.4v1.15h-2.1v2.2h-1.3zM598.00 44.91h3.4v1.15h-2.1v2.2h-1.3zM598.00 49.98h3.4v1.15h-2.1v2.2h-1.3zM598.00 55.05h3.4v1.15h-2.1v2.2h-1.3zM598.00 60.12h3.4v1.15h-2.1v2.2h-1.3zM598.00 65.19h3.4v1.15h-2.1v2.2h-1.3zM598.00 70.26h3.4v1.15h-2.1v2.2h-1.3zM598.00 75.33h3.4v1.15h-2.1v2.2h-1.3zM602.90 47.44h3.4v1.15h-2.1v2.2h-1.3zM602.90 52.51h3.4v1.15h-2.1v2.2h-1.3zM602.90 57.58h3.4v1.15h-2.1v2.2h-1.3zM602.90 62.65h3.4v1.15h-2.1v2.2h-1.3zM602.90 67.72h3.4v1.15h-2.1v2.2h-1.3zM602.90 72.79h3.4v1.15h-2.1v2.2h-1.3zM602.90 77.86h3.4v1.15h-2.1v2.2h-1.3zM607.80 44.91h3.4v1.15h-2.1v2.2h-1.3zM607.80 49.98h3.4v1.15h-2.1v2.2h-1.3zM607.80 55.05h3.4v1.15h-2.1v2.2h-1.3zM607.80 60.12h3.4v1.15h-2.1v2.2h-1.3zM607.80 65.19h3.4v1.15h-2.1v2.2h-1.3zM607.80 70.26h3.4v1.15h-2.1v2.2h-1.3zM607.80 75.33h3.4v1.15h-2.1v2.2h-1.3zM612.70 47.44h3.4v1.15h-2.1v2.2h-1.3zM612.70 52.51h3.4v1.15h-2.1v2.2h-1.3zM612.70 57.58h3.4v1.15h-2.1v2.2h-1.3zM612.70 62.65h3.4v1.15h-2.1v2.2h-1.3zM612.70 67.72h3.4v1.15h-2.1v2.2h-1.3zM612.70 72.79h3.4v1.15h-2.1v2.2h-1.3zM612.70 77.86h3.4v1.15h-2.1v2.2h-1.3zM617.60 44.91h3.4v1.15h-2.1v2.2h-1.3zM617.60 49.98h3.4v1.15h-2.1v2.2h-1.3zM617.60 55.05h3.4v1.15h-2.1v2.2h-1.3zM617.60 60.12h3.4v1.15h-2.1v2.2h-1.3zM617.60 65.19h3.4v1.15h-2.1v2.2h-1.3zM617.60 70.26h3.4v1.15h-2.1v2.2h-1.3zM617.60 75.33h3.4v1.15h-2.1v2.2h-1.3zM622.50 47.44h3.4v1.15h-2.1v2.2h-1.3zM622.50 52.51h3.4v1.15h-2.1v2.2h-1.3zM622.50 57.58h3.4v1.15h-2.1v2.2h-1.3zM622.50 62.65h3.4v1.15h-2.1v2.2h-1.3zM622.50 67.72h3.4v1.15h-2.1v2.2h-1.3zM622.50 72.79h3.4v1.15h-2.1v2.2h-1.3zM622.50 77.86h3.4v1.15h-2.1v2.2h-1.3zM627.40 44.91h3.4v1.15h-2.1v2.2h-1.3zM627.40 49.98h3.4v1.15h-2.1v2.2h-1.3zM627.40 55.05h3.4v1.15h-2.1v2.2h-1.3zM627.40 60.12h3.4v1.15h-2.1v2.2h-1.3zM627.40 65.19h3.4v1.15h-2.1v2.2h-1.3zM627.40 70.26h3.4v1.15h-2.1v2.2h-1.3zM627.40 75.33h3.4v1.15h-2.1v2.2h-1.3zM632.30 47.44h3.4v1.15h-2.1v2.2h-1.3zM632.30 52.51h3.4v1.15h-2.1v2.2h-1.3zM632.30 57.58h3.4v1.15h-2.1v2.2h-1.3zM632.30 62.65h3.4v1.15h-2.1v2.2h-1.3zM632.30 67.72h3.4v1.15h-2.1v2.2h-1.3zM632.30 72.79h3.4v1.15h-2.1v2.2h-1.3zM632.30 77.86h3.4v1.15h-2.1v2.2h-1.3z"/>
<rect x="597.5" y="54.70" width="26.90" height="13.60" fill="none" stroke="#000" stroke-width="1.2"/>
<text transform="translate(639.6 68.20) scale(0.95 1)" font-size="21.8" word-spacing="0.4">Control</text>
<rect x="597.5" y="88.50" width="26.90" height="13.80" fill="url(#pxL)" stroke="#000" stroke-width="1.2"/>
<text transform="translate(639.6 102.20) scale(0.95 1)" font-size="21.8" word-spacing="0.4">2 h</text>
<rect x="597.5" y="124.30" width="26.90" height="13.80" fill="url(#pkL)" stroke="#000" stroke-width="1.2"/>
<text transform="translate(639.6 138.00) scale(0.95 1)" font-size="21.8" word-spacing="0.4">4 h</text>
<rect x="597.5" y="153.60" width="26.90" height="13.80" fill="url(#pdL)" stroke="#000" stroke-width="1.2"/>
<text transform="translate(639.6 167.30) scale(0.95 1)" font-size="21.8" word-spacing="0.4">6 h</text>
</svg>
</body>
</html>
